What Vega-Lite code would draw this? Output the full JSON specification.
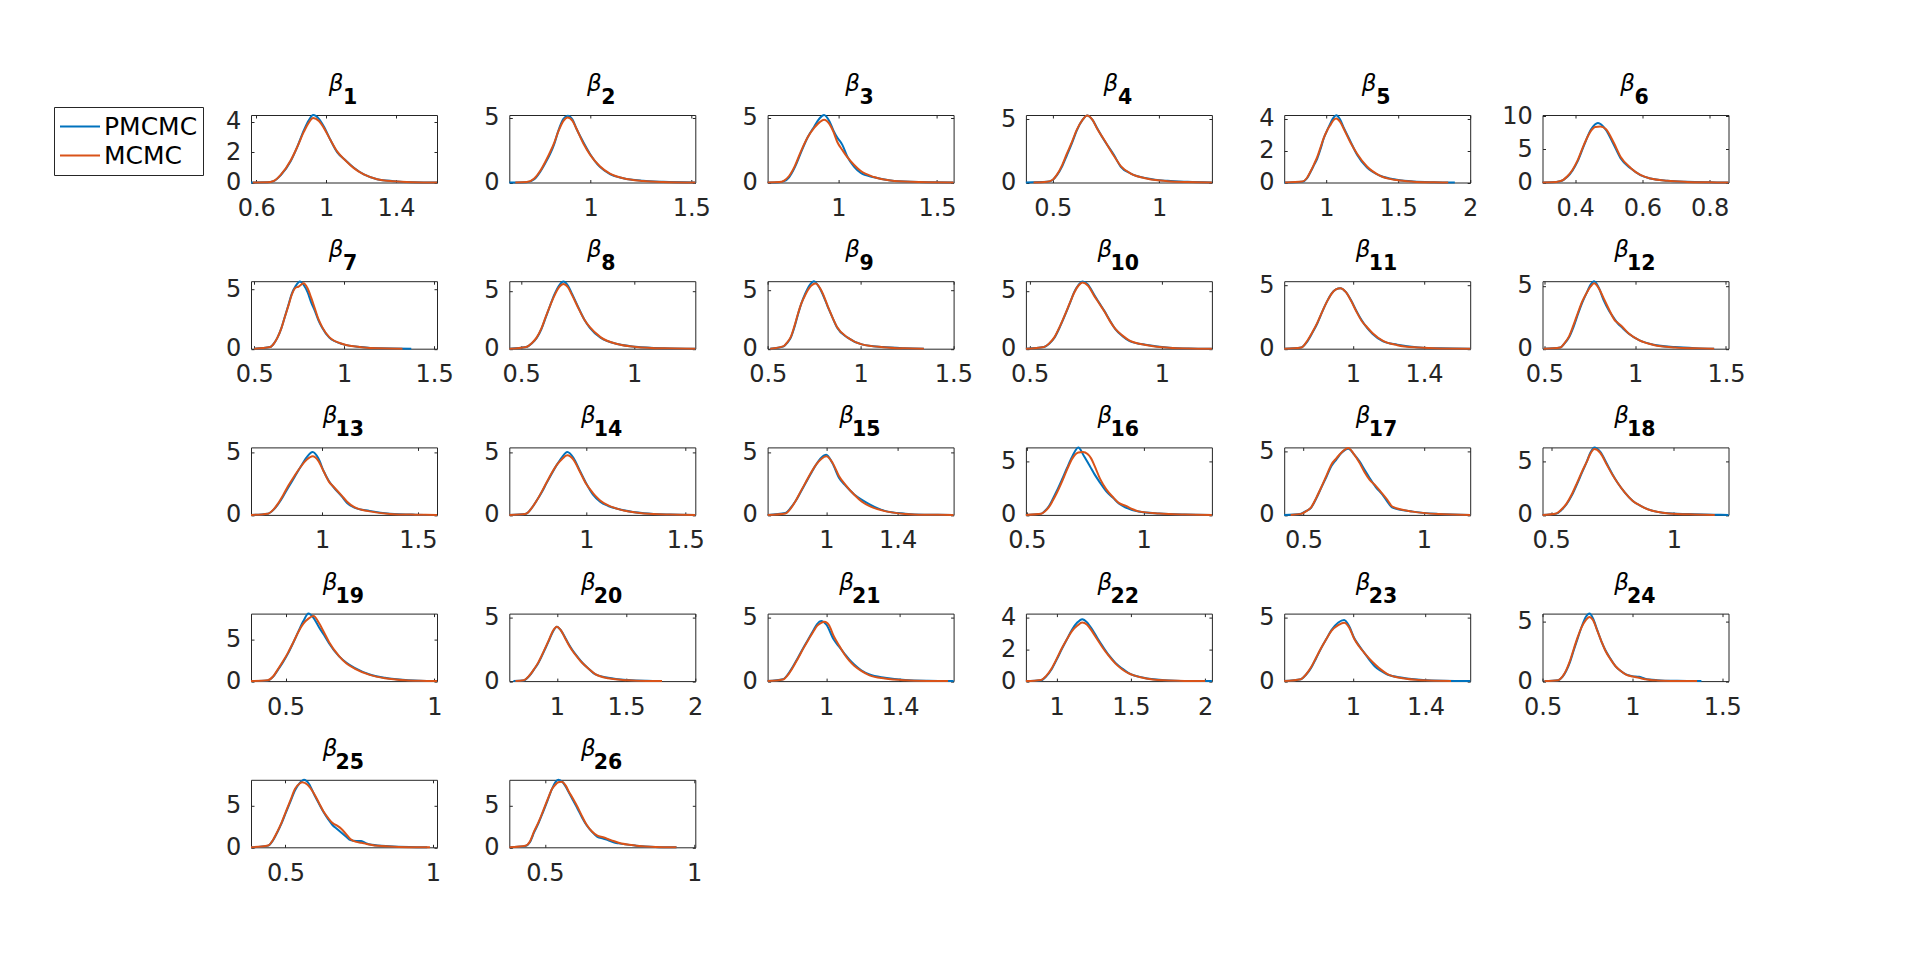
{
"$schema":"https://vega.github.io/schema/vega-lite/v6.json",
"background":"white",
"padding":{"left":53,"top":71,"right":20,"bottom":20},
"bounds":"flush",
"columns":6,
"spacing":{"row":98.2,"column":72.3},
"config":{
 "font":"DejaVu Sans",
 "numberFormat":"~r",
 "view":{"stroke":"#262626","strokeWidth":1,"fill":"white"},
 "line":{"strokeWidth":2,"interpolate":"monotone","clip":true},
 "axis":{"grid":false,"domain":false,"tickSize":-3,"tickColor":"#262626","tickWidth":1,"labelFont":"DejaVu Sans","labelFontSize":24,"labelColor":"#262626","labelFlush":false,"labelOverlap":false},
 "axisX":{"labelPadding":17},
 "axisY":{"labelPadding":13.2},
 "axisBottom":{"titleFont":"DejaVu Sans","titleFontSize":23,"titleFontStyle":"italic","titleFontWeight":"normal","titleColor":"black","titleAlign":"center","titleBaseline":"alphabetic","titleY":-92.1,"titleAngle":0},
 "axisTop":{"titleFont":"DejaVu Sans","titleFontSize":20.5,"titleFontWeight":"bold","titleColor":"black","titleAlign":"left","titleBaseline":"alphabetic","titleY":-11.6,"titleAngle":0}
},
"data":{"values":[
{"p":1,"m":"PMCMC","x":0.57,"y":0},{"p":1,"m":"PMCMC","x":0.663,"y":0.01},{"p":1,"m":"PMCMC","x":0.7,"y":0.09},{"p":1,"m":"PMCMC","x":0.74,"y":0.48},{"p":1,"m":"PMCMC","x":0.797,"y":1.4},{"p":1,"m":"PMCMC","x":0.835,"y":2.35},{"p":1,"m":"PMCMC","x":0.873,"y":3.45},{"p":1,"m":"PMCMC","x":0.901,"y":4.1},{"p":1,"m":"PMCMC","x":0.926,"y":4.45},{"p":1,"m":"PMCMC","x":0.959,"y":4.2},{"p":1,"m":"PMCMC","x":0.987,"y":3.7},{"p":1,"m":"PMCMC","x":1.025,"y":2.8},{"p":1,"m":"PMCMC","x":1.063,"y":2.0},{"p":1,"m":"PMCMC","x":1.111,"y":1.47},{"p":1,"m":"PMCMC","x":1.159,"y":0.97},{"p":1,"m":"PMCMC","x":1.216,"y":0.53},{"p":1,"m":"PMCMC","x":1.292,"y":0.22},{"p":1,"m":"PMCMC","x":1.387,"y":0.09},{"p":1,"m":"PMCMC","x":1.5,"y":0.02},{"p":1,"m":"PMCMC","x":1.635,"y":0},
{"p":1,"m":"MCMC","x":0.58,"y":0},{"p":1,"m":"MCMC","x":0.663,"y":0.01},{"p":1,"m":"MCMC","x":0.7,"y":0.1},{"p":1,"m":"MCMC","x":0.74,"y":0.5},{"p":1,"m":"MCMC","x":0.797,"y":1.45},{"p":1,"m":"MCMC","x":0.835,"y":2.35},{"p":1,"m":"MCMC","x":0.873,"y":3.35},{"p":1,"m":"MCMC","x":0.901,"y":3.95},{"p":1,"m":"MCMC","x":0.926,"y":4.25},{"p":1,"m":"MCMC","x":0.959,"y":4.05},{"p":1,"m":"MCMC","x":0.987,"y":3.6},{"p":1,"m":"MCMC","x":1.025,"y":2.8},{"p":1,"m":"MCMC","x":1.063,"y":2.05},{"p":1,"m":"MCMC","x":1.111,"y":1.45},{"p":1,"m":"MCMC","x":1.159,"y":0.95},{"p":1,"m":"MCMC","x":1.216,"y":0.53},{"p":1,"m":"MCMC","x":1.292,"y":0.22},{"p":1,"m":"MCMC","x":1.387,"y":0.08},{"p":1,"m":"MCMC","x":1.5,"y":0.02},{"p":1,"m":"MCMC","x":1.635,"y":0},
{"p":2,"m":"PMCMC","x":0.596,"y":0},{"p":2,"m":"PMCMC","x":0.683,"y":0.02},{"p":2,"m":"PMCMC","x":0.72,"y":0.25},{"p":2,"m":"PMCMC","x":0.75,"y":0.84},{"p":2,"m":"PMCMC","x":0.775,"y":1.5},{"p":2,"m":"PMCMC","x":0.799,"y":2.2},{"p":2,"m":"PMCMC","x":0.82,"y":3.0},{"p":2,"m":"PMCMC","x":0.84,"y":4.0},{"p":2,"m":"PMCMC","x":0.865,"y":4.9},{"p":2,"m":"PMCMC","x":0.886,"y":5.15},{"p":2,"m":"PMCMC","x":0.91,"y":4.85},{"p":2,"m":"PMCMC","x":0.931,"y":4.1},{"p":2,"m":"PMCMC","x":0.964,"y":3.1},{"p":2,"m":"PMCMC","x":0.997,"y":2.2},{"p":2,"m":"PMCMC","x":1.046,"y":1.2},{"p":2,"m":"PMCMC","x":1.096,"y":0.65},{"p":2,"m":"PMCMC","x":1.162,"y":0.33},{"p":2,"m":"PMCMC","x":1.26,"y":0.13},{"p":2,"m":"PMCMC","x":1.36,"y":0.05},{"p":2,"m":"PMCMC","x":1.52,"y":0},
{"p":2,"m":"MCMC","x":0.626,"y":0},{"p":2,"m":"MCMC","x":0.683,"y":0.03},{"p":2,"m":"MCMC","x":0.72,"y":0.3},{"p":2,"m":"MCMC","x":0.75,"y":0.9},{"p":2,"m":"MCMC","x":0.775,"y":1.6},{"p":2,"m":"MCMC","x":0.799,"y":2.35},{"p":2,"m":"MCMC","x":0.82,"y":3.1},{"p":2,"m":"MCMC","x":0.84,"y":3.95},{"p":2,"m":"MCMC","x":0.865,"y":4.75},{"p":2,"m":"MCMC","x":0.886,"y":5.0},{"p":2,"m":"MCMC","x":0.91,"y":4.75},{"p":2,"m":"MCMC","x":0.931,"y":4.1},{"p":2,"m":"MCMC","x":0.964,"y":3.0},{"p":2,"m":"MCMC","x":0.997,"y":2.15},{"p":2,"m":"MCMC","x":1.046,"y":1.25},{"p":2,"m":"MCMC","x":1.096,"y":0.68},{"p":2,"m":"MCMC","x":1.162,"y":0.33},{"p":2,"m":"MCMC","x":1.26,"y":0.12},{"p":2,"m":"MCMC","x":1.36,"y":0.04},{"p":2,"m":"MCMC","x":1.52,"y":0},
{"p":3,"m":"PMCMC","x":0.641,"y":0},{"p":3,"m":"PMCMC","x":0.7,"y":0.02},{"p":3,"m":"PMCMC","x":0.725,"y":0.1},{"p":3,"m":"PMCMC","x":0.75,"y":0.4},{"p":3,"m":"PMCMC","x":0.78,"y":1.2},{"p":3,"m":"PMCMC","x":0.81,"y":2.3},{"p":3,"m":"PMCMC","x":0.845,"y":3.5},{"p":3,"m":"PMCMC","x":0.877,"y":4.3},{"p":3,"m":"PMCMC","x":0.905,"y":4.95},{"p":3,"m":"PMCMC","x":0.927,"y":5.2},{"p":3,"m":"PMCMC","x":0.955,"y":4.7},{"p":3,"m":"PMCMC","x":0.975,"y":4.0},{"p":3,"m":"PMCMC","x":0.995,"y":3.45},{"p":3,"m":"PMCMC","x":1.02,"y":2.9},{"p":3,"m":"PMCMC","x":1.045,"y":2.0},{"p":3,"m":"PMCMC","x":1.08,"y":1.2},{"p":3,"m":"PMCMC","x":1.112,"y":0.75},{"p":3,"m":"PMCMC","x":1.18,"y":0.4},{"p":3,"m":"PMCMC","x":1.264,"y":0.15},{"p":3,"m":"PMCMC","x":1.365,"y":0.05},{"p":3,"m":"PMCMC","x":1.584,"y":0},
{"p":3,"m":"MCMC","x":0.641,"y":0},{"p":3,"m":"MCMC","x":0.7,"y":0.03},{"p":3,"m":"MCMC","x":0.725,"y":0.15},{"p":3,"m":"MCMC","x":0.75,"y":0.5},{"p":3,"m":"MCMC","x":0.78,"y":1.3},{"p":3,"m":"MCMC","x":0.81,"y":2.4},{"p":3,"m":"MCMC","x":0.845,"y":3.5},{"p":3,"m":"MCMC","x":0.877,"y":4.2},{"p":3,"m":"MCMC","x":0.905,"y":4.65},{"p":3,"m":"MCMC","x":0.927,"y":4.84},{"p":3,"m":"MCMC","x":0.955,"y":4.5},{"p":3,"m":"MCMC","x":0.975,"y":3.9},{"p":3,"m":"MCMC","x":0.995,"y":3.1},{"p":3,"m":"MCMC","x":1.02,"y":2.5},{"p":3,"m":"MCMC","x":1.045,"y":1.95},{"p":3,"m":"MCMC","x":1.08,"y":1.35},{"p":3,"m":"MCMC","x":1.112,"y":0.9},{"p":3,"m":"MCMC","x":1.18,"y":0.42},{"p":3,"m":"MCMC","x":1.264,"y":0.15},{"p":3,"m":"MCMC","x":1.365,"y":0.05},{"p":3,"m":"MCMC","x":1.584,"y":0},
{"p":4,"m":"PMCMC","x":0.374,"y":0},{"p":4,"m":"PMCMC","x":0.473,"y":0.05},{"p":4,"m":"PMCMC","x":0.5,"y":0.2},{"p":4,"m":"PMCMC","x":0.52,"y":0.58},{"p":4,"m":"PMCMC","x":0.545,"y":1.3},{"p":4,"m":"PMCMC","x":0.567,"y":2.17},{"p":4,"m":"PMCMC","x":0.59,"y":3.1},{"p":4,"m":"PMCMC","x":0.614,"y":4.15},{"p":4,"m":"PMCMC","x":0.64,"y":4.95},{"p":4,"m":"PMCMC","x":0.662,"y":5.3},{"p":4,"m":"PMCMC","x":0.687,"y":4.95},{"p":4,"m":"PMCMC","x":0.709,"y":4.3},{"p":4,"m":"PMCMC","x":0.741,"y":3.36},{"p":4,"m":"PMCMC","x":0.788,"y":2.17},{"p":4,"m":"PMCMC","x":0.82,"y":1.24},{"p":4,"m":"PMCMC","x":0.867,"y":0.71},{"p":4,"m":"PMCMC","x":0.946,"y":0.32},{"p":4,"m":"PMCMC","x":1.04,"y":0.13},{"p":4,"m":"PMCMC","x":1.135,"y":0.05},{"p":4,"m":"PMCMC","x":1.248,"y":0},
{"p":4,"m":"MCMC","x":0.41,"y":0},{"p":4,"m":"MCMC","x":0.473,"y":0.06},{"p":4,"m":"MCMC","x":0.5,"y":0.22},{"p":4,"m":"MCMC","x":0.52,"y":0.62},{"p":4,"m":"MCMC","x":0.545,"y":1.4},{"p":4,"m":"MCMC","x":0.567,"y":2.3},{"p":4,"m":"MCMC","x":0.59,"y":3.2},{"p":4,"m":"MCMC","x":0.614,"y":4.2},{"p":4,"m":"MCMC","x":0.64,"y":4.95},{"p":4,"m":"MCMC","x":0.662,"y":5.3},{"p":4,"m":"MCMC","x":0.687,"y":4.95},{"p":4,"m":"MCMC","x":0.709,"y":4.25},{"p":4,"m":"MCMC","x":0.741,"y":3.4},{"p":4,"m":"MCMC","x":0.788,"y":2.1},{"p":4,"m":"MCMC","x":0.82,"y":1.3},{"p":4,"m":"MCMC","x":0.867,"y":0.7},{"p":4,"m":"MCMC","x":0.946,"y":0.3},{"p":4,"m":"MCMC","x":1.04,"y":0.1},{"p":4,"m":"MCMC","x":1.135,"y":0.03},{"p":4,"m":"MCMC","x":1.248,"y":0},
{"p":5,"m":"PMCMC","x":0.707,"y":0},{"p":5,"m":"PMCMC","x":0.834,"y":0.05},{"p":5,"m":"PMCMC","x":0.865,"y":0.25},{"p":5,"m":"PMCMC","x":0.891,"y":0.67},{"p":5,"m":"PMCMC","x":0.915,"y":1.1},{"p":5,"m":"PMCMC","x":0.937,"y":1.5},{"p":5,"m":"PMCMC","x":0.96,"y":2.1},{"p":5,"m":"PMCMC","x":0.983,"y":2.78},{"p":5,"m":"PMCMC","x":1.008,"y":3.3},{"p":5,"m":"PMCMC","x":1.03,"y":3.73},{"p":5,"m":"PMCMC","x":1.05,"y":4.05},{"p":5,"m":"PMCMC","x":1.069,"y":4.2},{"p":5,"m":"PMCMC","x":1.095,"y":3.95},{"p":5,"m":"PMCMC","x":1.122,"y":3.41},{"p":5,"m":"PMCMC","x":1.168,"y":2.57},{"p":5,"m":"PMCMC","x":1.214,"y":1.73},{"p":5,"m":"PMCMC","x":1.283,"y":0.93},{"p":5,"m":"PMCMC","x":1.375,"y":0.42},{"p":5,"m":"PMCMC","x":1.49,"y":0.17},{"p":5,"m":"PMCMC","x":1.606,"y":0.06},{"p":5,"m":"PMCMC","x":1.75,"y":0.015},{"p":5,"m":"PMCMC","x":1.894,"y":0},
{"p":5,"m":"MCMC","x":0.712,"y":0},{"p":5,"m":"MCMC","x":0.834,"y":0.06},{"p":5,"m":"MCMC","x":0.865,"y":0.28},{"p":5,"m":"MCMC","x":0.891,"y":0.7},{"p":5,"m":"MCMC","x":0.915,"y":1.15},{"p":5,"m":"MCMC","x":0.937,"y":1.6},{"p":5,"m":"MCMC","x":0.96,"y":2.2},{"p":5,"m":"MCMC","x":0.983,"y":2.8},{"p":5,"m":"MCMC","x":1.008,"y":3.3},{"p":5,"m":"MCMC","x":1.03,"y":3.62},{"p":5,"m":"MCMC","x":1.05,"y":3.9},{"p":5,"m":"MCMC","x":1.069,"y":4.0},{"p":5,"m":"MCMC","x":1.095,"y":3.8},{"p":5,"m":"MCMC","x":1.122,"y":3.35},{"p":5,"m":"MCMC","x":1.168,"y":2.5},{"p":5,"m":"MCMC","x":1.214,"y":1.8},{"p":5,"m":"MCMC","x":1.283,"y":1.0},{"p":5,"m":"MCMC","x":1.375,"y":0.42},{"p":5,"m":"MCMC","x":1.49,"y":0.15},{"p":5,"m":"MCMC","x":1.606,"y":0.05},{"p":5,"m":"MCMC","x":1.75,"y":0.01},{"p":5,"m":"MCMC","x":1.848,"y":0},
{"p":6,"m":"PMCMC","x":0.303,"y":0},{"p":6,"m":"PMCMC","x":0.33,"y":0.02},{"p":6,"m":"PMCMC","x":0.357,"y":0.2},{"p":6,"m":"PMCMC","x":0.377,"y":0.86},{"p":6,"m":"PMCMC","x":0.392,"y":1.8},{"p":6,"m":"PMCMC","x":0.407,"y":3.16},{"p":6,"m":"PMCMC","x":0.427,"y":5.7},{"p":6,"m":"PMCMC","x":0.447,"y":8.0},{"p":6,"m":"PMCMC","x":0.468,"y":9.0},{"p":6,"m":"PMCMC","x":0.491,"y":8.0},{"p":6,"m":"PMCMC","x":0.515,"y":5.7},{"p":6,"m":"PMCMC","x":0.535,"y":3.67},{"p":6,"m":"PMCMC","x":0.565,"y":2.14},{"p":6,"m":"PMCMC","x":0.594,"y":1.12},{"p":6,"m":"PMCMC","x":0.624,"y":0.61},{"p":6,"m":"PMCMC","x":0.674,"y":0.26},{"p":6,"m":"PMCMC","x":0.733,"y":0.1},{"p":6,"m":"PMCMC","x":0.8,"y":0.03},{"p":6,"m":"PMCMC","x":0.856,"y":0},
{"p":6,"m":"MCMC","x":0.303,"y":0},{"p":6,"m":"MCMC","x":0.33,"y":0.02},{"p":6,"m":"MCMC","x":0.357,"y":0.22},{"p":6,"m":"MCMC","x":0.377,"y":0.95},{"p":6,"m":"MCMC","x":0.392,"y":1.9},{"p":6,"m":"MCMC","x":0.407,"y":3.3},{"p":6,"m":"MCMC","x":0.427,"y":5.8},{"p":6,"m":"MCMC","x":0.447,"y":7.8},{"p":6,"m":"MCMC","x":0.46,"y":8.4},{"p":6,"m":"MCMC","x":0.475,"y":8.45},{"p":6,"m":"MCMC","x":0.491,"y":8.1},{"p":6,"m":"MCMC","x":0.515,"y":6.0},{"p":6,"m":"MCMC","x":0.535,"y":3.9},{"p":6,"m":"MCMC","x":0.565,"y":2.2},{"p":6,"m":"MCMC","x":0.594,"y":1.15},{"p":6,"m":"MCMC","x":0.624,"y":0.6},{"p":6,"m":"MCMC","x":0.674,"y":0.25},{"p":6,"m":"MCMC","x":0.733,"y":0.09},{"p":6,"m":"MCMC","x":0.8,"y":0.03},{"p":6,"m":"MCMC","x":0.856,"y":0},
{"p":7,"m":"PMCMC","x":0.5,"y":0},{"p":7,"m":"PMCMC","x":0.589,"y":0.14},{"p":7,"m":"PMCMC","x":0.61,"y":0.45},{"p":7,"m":"PMCMC","x":0.629,"y":0.94},{"p":7,"m":"PMCMC","x":0.65,"y":1.7},{"p":7,"m":"PMCMC","x":0.669,"y":2.64},{"p":7,"m":"PMCMC","x":0.69,"y":3.7},{"p":7,"m":"PMCMC","x":0.708,"y":4.63},{"p":7,"m":"PMCMC","x":0.73,"y":5.3},{"p":7,"m":"PMCMC","x":0.754,"y":5.7},{"p":7,"m":"PMCMC","x":0.775,"y":5.4},{"p":7,"m":"PMCMC","x":0.797,"y":4.77},{"p":7,"m":"PMCMC","x":0.817,"y":3.9},{"p":7,"m":"PMCMC","x":0.837,"y":3.2},{"p":7,"m":"PMCMC","x":0.857,"y":2.4},{"p":7,"m":"PMCMC","x":0.877,"y":1.79},{"p":7,"m":"PMCMC","x":0.917,"y":0.94},{"p":7,"m":"PMCMC","x":0.996,"y":0.37},{"p":7,"m":"PMCMC","x":1.095,"y":0.14},{"p":7,"m":"PMCMC","x":1.194,"y":0.03},{"p":7,"m":"PMCMC","x":1.373,"y":0},
{"p":7,"m":"MCMC","x":0.5,"y":0},{"p":7,"m":"MCMC","x":0.589,"y":0.14},{"p":7,"m":"MCMC","x":0.61,"y":0.45},{"p":7,"m":"MCMC","x":0.629,"y":0.94},{"p":7,"m":"MCMC","x":0.65,"y":1.7},{"p":7,"m":"MCMC","x":0.669,"y":2.64},{"p":7,"m":"MCMC","x":0.69,"y":3.65},{"p":7,"m":"MCMC","x":0.708,"y":4.55},{"p":7,"m":"MCMC","x":0.728,"y":5.15},{"p":7,"m":"MCMC","x":0.745,"y":5.25},{"p":7,"m":"MCMC","x":0.774,"y":5.54},{"p":7,"m":"MCMC","x":0.797,"y":5.1},{"p":7,"m":"MCMC","x":0.817,"y":4.3},{"p":7,"m":"MCMC","x":0.837,"y":3.4},{"p":7,"m":"MCMC","x":0.857,"y":2.5},{"p":7,"m":"MCMC","x":0.877,"y":1.85},{"p":7,"m":"MCMC","x":0.917,"y":0.98},{"p":7,"m":"MCMC","x":0.996,"y":0.38},{"p":7,"m":"MCMC","x":1.095,"y":0.13},{"p":7,"m":"MCMC","x":1.194,"y":0.03},{"p":7,"m":"MCMC","x":1.324,"y":0},
{"p":8,"m":"PMCMC","x":0.448,"y":0},{"p":8,"m":"PMCMC","x":0.523,"y":0.14},{"p":8,"m":"PMCMC","x":0.547,"y":0.45},{"p":8,"m":"PMCMC","x":0.57,"y":0.95},{"p":8,"m":"PMCMC","x":0.59,"y":1.7},{"p":8,"m":"PMCMC","x":0.609,"y":2.69},{"p":8,"m":"PMCMC","x":0.628,"y":3.7},{"p":8,"m":"PMCMC","x":0.648,"y":4.7},{"p":8,"m":"PMCMC","x":0.668,"y":5.45},{"p":8,"m":"PMCMC","x":0.687,"y":5.8},{"p":8,"m":"PMCMC","x":0.707,"y":5.45},{"p":8,"m":"PMCMC","x":0.726,"y":4.7},{"p":8,"m":"PMCMC","x":0.757,"y":3.4},{"p":8,"m":"PMCMC","x":0.78,"y":2.5},{"p":8,"m":"PMCMC","x":0.804,"y":1.8},{"p":8,"m":"PMCMC","x":0.851,"y":0.95},{"p":8,"m":"PMCMC","x":0.93,"y":0.38},{"p":8,"m":"PMCMC","x":1.007,"y":0.17},{"p":8,"m":"PMCMC","x":1.132,"y":0.04},{"p":8,"m":"PMCMC","x":1.27,"y":0},
{"p":8,"m":"MCMC","x":0.448,"y":0},{"p":8,"m":"MCMC","x":0.523,"y":0.15},{"p":8,"m":"MCMC","x":0.547,"y":0.47},{"p":8,"m":"MCMC","x":0.57,"y":1.0},{"p":8,"m":"MCMC","x":0.59,"y":1.75},{"p":8,"m":"MCMC","x":0.609,"y":2.75},{"p":8,"m":"MCMC","x":0.628,"y":3.7},{"p":8,"m":"MCMC","x":0.648,"y":4.6},{"p":8,"m":"MCMC","x":0.668,"y":5.3},{"p":8,"m":"MCMC","x":0.687,"y":5.58},{"p":8,"m":"MCMC","x":0.707,"y":5.3},{"p":8,"m":"MCMC","x":0.726,"y":4.6},{"p":8,"m":"MCMC","x":0.757,"y":3.35},{"p":8,"m":"MCMC","x":0.78,"y":2.5},{"p":8,"m":"MCMC","x":0.804,"y":1.85},{"p":8,"m":"MCMC","x":0.851,"y":1.0},{"p":8,"m":"MCMC","x":0.93,"y":0.38},{"p":8,"m":"MCMC","x":1.007,"y":0.15},{"p":8,"m":"MCMC","x":1.132,"y":0.03},{"p":8,"m":"MCMC","x":1.27,"y":0},
{"p":9,"m":"PMCMC","x":0.513,"y":0},{"p":9,"m":"PMCMC","x":0.586,"y":0.2},{"p":9,"m":"PMCMC","x":0.605,"y":0.5},{"p":9,"m":"PMCMC","x":0.624,"y":0.94},{"p":9,"m":"PMCMC","x":0.643,"y":1.8},{"p":9,"m":"PMCMC","x":0.663,"y":2.94},{"p":9,"m":"PMCMC","x":0.682,"y":3.9},{"p":9,"m":"PMCMC","x":0.701,"y":4.66},{"p":9,"m":"PMCMC","x":0.725,"y":5.4},{"p":9,"m":"PMCMC","x":0.749,"y":5.75},{"p":9,"m":"PMCMC","x":0.768,"y":5.45},{"p":9,"m":"PMCMC","x":0.787,"y":4.94},{"p":9,"m":"PMCMC","x":0.825,"y":3.5},{"p":9,"m":"PMCMC","x":0.85,"y":2.6},{"p":9,"m":"PMCMC","x":0.873,"y":1.8},{"p":9,"m":"PMCMC","x":0.93,"y":0.94},{"p":9,"m":"PMCMC","x":1.007,"y":0.37},{"p":9,"m":"PMCMC","x":1.121,"y":0.14},{"p":9,"m":"PMCMC","x":1.236,"y":0.04},{"p":9,"m":"PMCMC","x":1.341,"y":0},
{"p":9,"m":"MCMC","x":0.513,"y":0},{"p":9,"m":"MCMC","x":0.586,"y":0.22},{"p":9,"m":"MCMC","x":0.605,"y":0.55},{"p":9,"m":"MCMC","x":0.624,"y":1.0},{"p":9,"m":"MCMC","x":0.643,"y":1.9},{"p":9,"m":"MCMC","x":0.663,"y":3.0},{"p":9,"m":"MCMC","x":0.682,"y":3.9},{"p":9,"m":"MCMC","x":0.701,"y":4.55},{"p":9,"m":"MCMC","x":0.725,"y":5.2},{"p":9,"m":"MCMC","x":0.758,"y":5.55},{"p":9,"m":"MCMC","x":0.787,"y":5.0},{"p":9,"m":"MCMC","x":0.825,"y":3.55},{"p":9,"m":"MCMC","x":0.85,"y":2.6},{"p":9,"m":"MCMC","x":0.873,"y":1.85},{"p":9,"m":"MCMC","x":0.93,"y":0.95},{"p":9,"m":"MCMC","x":1.007,"y":0.37},{"p":9,"m":"MCMC","x":1.121,"y":0.13},{"p":9,"m":"MCMC","x":1.236,"y":0.03},{"p":9,"m":"MCMC","x":1.341,"y":0},
{"p":10,"m":"PMCMC","x":0.486,"y":0},{"p":10,"m":"PMCMC","x":0.554,"y":0.14},{"p":10,"m":"PMCMC","x":0.575,"y":0.45},{"p":10,"m":"PMCMC","x":0.594,"y":0.95},{"p":10,"m":"PMCMC","x":0.615,"y":1.9},{"p":10,"m":"PMCMC","x":0.635,"y":2.95},{"p":10,"m":"PMCMC","x":0.652,"y":3.9},{"p":10,"m":"PMCMC","x":0.668,"y":4.85},{"p":10,"m":"PMCMC","x":0.685,"y":5.5},{"p":10,"m":"PMCMC","x":0.7,"y":5.8},{"p":10,"m":"PMCMC","x":0.72,"y":5.55},{"p":10,"m":"PMCMC","x":0.743,"y":4.7},{"p":10,"m":"PMCMC","x":0.763,"y":3.95},{"p":10,"m":"PMCMC","x":0.783,"y":3.24},{"p":10,"m":"PMCMC","x":0.803,"y":2.45},{"p":10,"m":"PMCMC","x":0.824,"y":1.68},{"p":10,"m":"PMCMC","x":0.85,"y":1.1},{"p":10,"m":"PMCMC","x":0.878,"y":0.66},{"p":10,"m":"PMCMC","x":0.945,"y":0.32},{"p":10,"m":"PMCMC","x":1.027,"y":0.09},{"p":10,"m":"PMCMC","x":1.1,"y":0.02},{"p":10,"m":"PMCMC","x":1.189,"y":0},
{"p":10,"m":"MCMC","x":0.486,"y":0},{"p":10,"m":"MCMC","x":0.554,"y":0.15},{"p":10,"m":"MCMC","x":0.575,"y":0.48},{"p":10,"m":"MCMC","x":0.594,"y":1.0},{"p":10,"m":"MCMC","x":0.615,"y":1.95},{"p":10,"m":"MCMC","x":0.635,"y":3.0},{"p":10,"m":"MCMC","x":0.652,"y":3.95},{"p":10,"m":"MCMC","x":0.668,"y":4.8},{"p":10,"m":"MCMC","x":0.685,"y":5.45},{"p":10,"m":"MCMC","x":0.7,"y":5.7},{"p":10,"m":"MCMC","x":0.72,"y":5.45},{"p":10,"m":"MCMC","x":0.743,"y":4.6},{"p":10,"m":"MCMC","x":0.763,"y":3.9},{"p":10,"m":"MCMC","x":0.783,"y":3.2},{"p":10,"m":"MCMC","x":0.803,"y":2.4},{"p":10,"m":"MCMC","x":0.824,"y":1.7},{"p":10,"m":"MCMC","x":0.85,"y":1.15},{"p":10,"m":"MCMC","x":0.878,"y":0.7},{"p":10,"m":"MCMC","x":0.945,"y":0.3},{"p":10,"m":"MCMC","x":1.027,"y":0.08},{"p":10,"m":"MCMC","x":1.1,"y":0.02},{"p":10,"m":"MCMC","x":1.189,"y":0},
{"p":11,"m":"PMCMC","x":0.614,"y":0},{"p":11,"m":"PMCMC","x":0.71,"y":0.1},{"p":11,"m":"PMCMC","x":0.74,"y":0.5},{"p":11,"m":"PMCMC","x":0.77,"y":1.2},{"p":11,"m":"PMCMC","x":0.8,"y":2.0},{"p":11,"m":"PMCMC","x":0.83,"y":3.0},{"p":11,"m":"PMCMC","x":0.855,"y":3.75},{"p":11,"m":"PMCMC","x":0.88,"y":4.37},{"p":11,"m":"PMCMC","x":0.905,"y":4.7},{"p":11,"m":"PMCMC","x":0.93,"y":4.8},{"p":11,"m":"PMCMC","x":0.96,"y":4.5},{"p":11,"m":"PMCMC","x":0.99,"y":3.84},{"p":11,"m":"PMCMC","x":1.02,"y":3.0},{"p":11,"m":"PMCMC","x":1.05,"y":2.25},{"p":11,"m":"PMCMC","x":1.08,"y":1.65},{"p":11,"m":"PMCMC","x":1.11,"y":1.19},{"p":11,"m":"PMCMC","x":1.17,"y":0.58},{"p":11,"m":"PMCMC","x":1.25,"y":0.32},{"p":11,"m":"PMCMC","x":1.37,"y":0.1},{"p":11,"m":"PMCMC","x":1.49,"y":0.03},{"p":11,"m":"PMCMC","x":1.66,"y":0},
{"p":11,"m":"MCMC","x":0.614,"y":0},{"p":11,"m":"MCMC","x":0.71,"y":0.1},{"p":11,"m":"MCMC","x":0.74,"y":0.55},{"p":11,"m":"MCMC","x":0.77,"y":1.25},{"p":11,"m":"MCMC","x":0.8,"y":2.05},{"p":11,"m":"MCMC","x":0.83,"y":3.0},{"p":11,"m":"MCMC","x":0.855,"y":3.75},{"p":11,"m":"MCMC","x":0.88,"y":4.35},{"p":11,"m":"MCMC","x":0.905,"y":4.7},{"p":11,"m":"MCMC","x":0.93,"y":4.8},{"p":11,"m":"MCMC","x":0.96,"y":4.5},{"p":11,"m":"MCMC","x":0.99,"y":3.8},{"p":11,"m":"MCMC","x":1.02,"y":2.95},{"p":11,"m":"MCMC","x":1.05,"y":2.2},{"p":11,"m":"MCMC","x":1.08,"y":1.7},{"p":11,"m":"MCMC","x":1.11,"y":1.25},{"p":11,"m":"MCMC","x":1.17,"y":0.62},{"p":11,"m":"MCMC","x":1.25,"y":0.28},{"p":11,"m":"MCMC","x":1.37,"y":0.09},{"p":11,"m":"MCMC","x":1.49,"y":0.02},{"p":11,"m":"MCMC","x":1.66,"y":0},
{"p":12,"m":"PMCMC","x":0.496,"y":0},{"p":12,"m":"PMCMC","x":0.588,"y":0.1},{"p":12,"m":"PMCMC","x":0.61,"y":0.4},{"p":12,"m":"PMCMC","x":0.637,"y":0.93},{"p":12,"m":"PMCMC","x":0.66,"y":1.7},{"p":12,"m":"PMCMC","x":0.686,"y":2.78},{"p":12,"m":"PMCMC","x":0.71,"y":3.7},{"p":12,"m":"PMCMC","x":0.735,"y":4.5},{"p":12,"m":"PMCMC","x":0.755,"y":5.1},{"p":12,"m":"PMCMC","x":0.774,"y":5.37},{"p":12,"m":"PMCMC","x":0.8,"y":4.85},{"p":12,"m":"PMCMC","x":0.827,"y":3.84},{"p":12,"m":"PMCMC","x":0.857,"y":3.0},{"p":12,"m":"PMCMC","x":0.886,"y":2.38},{"p":12,"m":"PMCMC","x":0.905,"y":2.0},{"p":12,"m":"PMCMC","x":0.925,"y":1.72},{"p":12,"m":"PMCMC","x":0.965,"y":1.19},{"p":12,"m":"PMCMC","x":1.024,"y":0.66},{"p":12,"m":"PMCMC","x":1.102,"y":0.32},{"p":12,"m":"PMCMC","x":1.22,"y":0.13},{"p":12,"m":"PMCMC","x":1.33,"y":0.04},{"p":12,"m":"PMCMC","x":1.435,"y":0},
{"p":12,"m":"MCMC","x":0.496,"y":0},{"p":12,"m":"MCMC","x":0.588,"y":0.1},{"p":12,"m":"MCMC","x":0.61,"y":0.42},{"p":12,"m":"MCMC","x":0.637,"y":1.0},{"p":12,"m":"MCMC","x":0.66,"y":1.85},{"p":12,"m":"MCMC","x":0.686,"y":2.9},{"p":12,"m":"MCMC","x":0.71,"y":3.8},{"p":12,"m":"MCMC","x":0.735,"y":4.5},{"p":12,"m":"MCMC","x":0.755,"y":4.95},{"p":12,"m":"MCMC","x":0.774,"y":5.2},{"p":12,"m":"MCMC","x":0.8,"y":4.8},{"p":12,"m":"MCMC","x":0.827,"y":4.0},{"p":12,"m":"MCMC","x":0.857,"y":3.1},{"p":12,"m":"MCMC","x":0.886,"y":2.3},{"p":12,"m":"MCMC","x":0.905,"y":2.05},{"p":12,"m":"MCMC","x":0.925,"y":1.8},{"p":12,"m":"MCMC","x":0.965,"y":1.2},{"p":12,"m":"MCMC","x":1.024,"y":0.66},{"p":12,"m":"MCMC","x":1.102,"y":0.3},{"p":12,"m":"MCMC","x":1.22,"y":0.1},{"p":12,"m":"MCMC","x":1.33,"y":0.03},{"p":12,"m":"MCMC","x":1.435,"y":0},
{"p":13,"m":"PMCMC","x":0.628,"y":0},{"p":13,"m":"PMCMC","x":0.716,"y":0.1},{"p":13,"m":"PMCMC","x":0.745,"y":0.4},{"p":13,"m":"PMCMC","x":0.769,"y":0.84},{"p":13,"m":"PMCMC","x":0.795,"y":1.45},{"p":13,"m":"PMCMC","x":0.822,"y":2.16},{"p":13,"m":"PMCMC","x":0.855,"y":3.0},{"p":13,"m":"PMCMC","x":0.889,"y":3.87},{"p":13,"m":"PMCMC","x":0.92,"y":4.6},{"p":13,"m":"PMCMC","x":0.95,"y":5.0},{"p":13,"m":"PMCMC","x":0.98,"y":4.5},{"p":13,"m":"PMCMC","x":1.008,"y":3.47},{"p":13,"m":"PMCMC","x":1.035,"y":2.7},{"p":13,"m":"PMCMC","x":1.062,"y":2.16},{"p":13,"m":"PMCMC","x":1.101,"y":1.5},{"p":13,"m":"PMCMC","x":1.13,"y":0.95},{"p":13,"m":"PMCMC","x":1.168,"y":0.58},{"p":13,"m":"PMCMC","x":1.248,"y":0.32},{"p":13,"m":"PMCMC","x":1.354,"y":0.1},{"p":13,"m":"PMCMC","x":1.487,"y":0.02},{"p":13,"m":"PMCMC","x":1.6,"y":0},
{"p":13,"m":"MCMC","x":0.628,"y":0},{"p":13,"m":"MCMC","x":0.716,"y":0.1},{"p":13,"m":"MCMC","x":0.745,"y":0.42},{"p":13,"m":"MCMC","x":0.769,"y":0.9},{"p":13,"m":"MCMC","x":0.795,"y":1.55},{"p":13,"m":"MCMC","x":0.822,"y":2.3},{"p":13,"m":"MCMC","x":0.855,"y":3.1},{"p":13,"m":"MCMC","x":0.889,"y":3.85},{"p":13,"m":"MCMC","x":0.92,"y":4.4},{"p":13,"m":"MCMC","x":0.95,"y":4.66},{"p":13,"m":"MCMC","x":0.98,"y":4.3},{"p":13,"m":"MCMC","x":1.008,"y":3.45},{"p":13,"m":"MCMC","x":1.035,"y":2.65},{"p":13,"m":"MCMC","x":1.062,"y":2.2},{"p":13,"m":"MCMC","x":1.101,"y":1.55},{"p":13,"m":"MCMC","x":1.13,"y":1.05},{"p":13,"m":"MCMC","x":1.168,"y":0.62},{"p":13,"m":"MCMC","x":1.248,"y":0.28},{"p":13,"m":"MCMC","x":1.354,"y":0.08},{"p":13,"m":"MCMC","x":1.487,"y":0.02},{"p":13,"m":"MCMC","x":1.6,"y":0},
{"p":14,"m":"PMCMC","x":0.611,"y":0},{"p":14,"m":"PMCMC","x":0.696,"y":0.1},{"p":14,"m":"PMCMC","x":0.722,"y":0.5},{"p":14,"m":"PMCMC","x":0.748,"y":1.1},{"p":14,"m":"PMCMC","x":0.775,"y":1.8},{"p":14,"m":"PMCMC","x":0.8,"y":2.55},{"p":14,"m":"PMCMC","x":0.826,"y":3.3},{"p":14,"m":"PMCMC","x":0.852,"y":4.0},{"p":14,"m":"PMCMC","x":0.878,"y":4.6},{"p":14,"m":"PMCMC","x":0.904,"y":5.0},{"p":14,"m":"PMCMC","x":0.935,"y":4.55},{"p":14,"m":"PMCMC","x":0.969,"y":3.47},{"p":14,"m":"PMCMC","x":1.0,"y":2.5},{"p":14,"m":"PMCMC","x":1.033,"y":1.63},{"p":14,"m":"PMCMC","x":1.07,"y":1.05},{"p":14,"m":"PMCMC","x":1.111,"y":0.71},{"p":14,"m":"PMCMC","x":1.189,"y":0.37},{"p":14,"m":"PMCMC","x":1.292,"y":0.13},{"p":14,"m":"PMCMC","x":1.422,"y":0.03},{"p":14,"m":"PMCMC","x":1.551,"y":0},
{"p":14,"m":"MCMC","x":0.611,"y":0},{"p":14,"m":"MCMC","x":0.696,"y":0.1},{"p":14,"m":"MCMC","x":0.722,"y":0.5},{"p":14,"m":"MCMC","x":0.748,"y":1.1},{"p":14,"m":"MCMC","x":0.775,"y":1.85},{"p":14,"m":"MCMC","x":0.8,"y":2.6},{"p":14,"m":"MCMC","x":0.826,"y":3.35},{"p":14,"m":"MCMC","x":0.852,"y":4.0},{"p":14,"m":"MCMC","x":0.878,"y":4.45},{"p":14,"m":"MCMC","x":0.904,"y":4.74},{"p":14,"m":"MCMC","x":0.935,"y":4.4},{"p":14,"m":"MCMC","x":0.969,"y":3.4},{"p":14,"m":"MCMC","x":1.0,"y":2.45},{"p":14,"m":"MCMC","x":1.033,"y":1.75},{"p":14,"m":"MCMC","x":1.05,"y":1.45},{"p":14,"m":"MCMC","x":1.07,"y":1.15},{"p":14,"m":"MCMC","x":1.111,"y":0.75},{"p":14,"m":"MCMC","x":1.189,"y":0.35},{"p":14,"m":"MCMC","x":1.292,"y":0.12},{"p":14,"m":"MCMC","x":1.422,"y":0.03},{"p":14,"m":"MCMC","x":1.551,"y":0},
{"p":15,"m":"PMCMC","x":0.671,"y":0},{"p":15,"m":"PMCMC","x":0.771,"y":0.15},{"p":15,"m":"PMCMC","x":0.8,"y":0.55},{"p":15,"m":"PMCMC","x":0.828,"y":1.1},{"p":15,"m":"PMCMC","x":0.856,"y":1.8},{"p":15,"m":"PMCMC","x":0.885,"y":2.55},{"p":15,"m":"PMCMC","x":0.914,"y":3.3},{"p":15,"m":"PMCMC","x":0.943,"y":4.0},{"p":15,"m":"PMCMC","x":0.972,"y":4.55},{"p":15,"m":"PMCMC","x":1.0,"y":4.79},{"p":15,"m":"PMCMC","x":1.035,"y":4.1},{"p":15,"m":"PMCMC","x":1.071,"y":2.95},{"p":15,"m":"PMCMC","x":1.11,"y":2.3},{"p":15,"m":"PMCMC","x":1.157,"y":1.63},{"p":15,"m":"PMCMC","x":1.2,"y":1.2},{"p":15,"m":"PMCMC","x":1.243,"y":0.84},{"p":15,"m":"PMCMC","x":1.328,"y":0.32},{"p":15,"m":"PMCMC","x":1.443,"y":0.1},{"p":15,"m":"PMCMC","x":1.55,"y":0.02},{"p":15,"m":"PMCMC","x":1.714,"y":0},
{"p":15,"m":"MCMC","x":0.671,"y":0},{"p":15,"m":"MCMC","x":0.771,"y":0.12},{"p":15,"m":"MCMC","x":0.8,"y":0.5},{"p":15,"m":"MCMC","x":0.828,"y":1.1},{"p":15,"m":"MCMC","x":0.856,"y":1.85},{"p":15,"m":"MCMC","x":0.885,"y":2.6},{"p":15,"m":"MCMC","x":0.914,"y":3.35},{"p":15,"m":"MCMC","x":0.943,"y":4.0},{"p":15,"m":"MCMC","x":0.972,"y":4.45},{"p":15,"m":"MCMC","x":1.0,"y":4.66},{"p":15,"m":"MCMC","x":1.035,"y":4.15},{"p":15,"m":"MCMC","x":1.071,"y":3.1},{"p":15,"m":"MCMC","x":1.11,"y":2.35},{"p":15,"m":"MCMC","x":1.157,"y":1.6},{"p":15,"m":"MCMC","x":1.2,"y":1.05},{"p":15,"m":"MCMC","x":1.243,"y":0.7},{"p":15,"m":"MCMC","x":1.328,"y":0.3},{"p":15,"m":"MCMC","x":1.443,"y":0.08},{"p":15,"m":"MCMC","x":1.55,"y":0.02},{"p":15,"m":"MCMC","x":1.714,"y":0},
{"p":16,"m":"PMCMC","x":0.496,"y":0},{"p":16,"m":"PMCMC","x":0.562,"y":0.12},{"p":16,"m":"PMCMC","x":0.578,"y":0.4},{"p":16,"m":"PMCMC","x":0.595,"y":0.84},{"p":16,"m":"PMCMC","x":0.61,"y":1.45},{"p":16,"m":"PMCMC","x":0.628,"y":2.24},{"p":16,"m":"PMCMC","x":0.65,"y":3.3},{"p":16,"m":"PMCMC","x":0.672,"y":4.41},{"p":16,"m":"PMCMC","x":0.695,"y":5.5},{"p":16,"m":"PMCMC","x":0.72,"y":6.33},{"p":16,"m":"PMCMC","x":0.745,"y":5.5},{"p":16,"m":"PMCMC","x":0.77,"y":4.57},{"p":16,"m":"PMCMC","x":0.79,"y":3.8},{"p":16,"m":"PMCMC","x":0.814,"y":3.0},{"p":16,"m":"PMCMC","x":0.84,"y":2.2},{"p":16,"m":"PMCMC","x":0.869,"y":1.6},{"p":16,"m":"PMCMC","x":0.895,"y":1.05},{"p":16,"m":"PMCMC","x":0.924,"y":0.68},{"p":16,"m":"PMCMC","x":0.978,"y":0.31},{"p":16,"m":"PMCMC","x":1.066,"y":0.12},{"p":16,"m":"PMCMC","x":1.175,"y":0.03},{"p":16,"m":"PMCMC","x":1.292,"y":0},
{"p":16,"m":"MCMC","x":0.496,"y":0},{"p":16,"m":"MCMC","x":0.562,"y":0.1},{"p":16,"m":"MCMC","x":0.578,"y":0.35},{"p":16,"m":"MCMC","x":0.595,"y":0.75},{"p":16,"m":"MCMC","x":0.61,"y":1.3},{"p":16,"m":"MCMC","x":0.628,"y":2.05},{"p":16,"m":"MCMC","x":0.65,"y":3.1},{"p":16,"m":"MCMC","x":0.672,"y":4.25},{"p":16,"m":"MCMC","x":0.695,"y":5.3},{"p":16,"m":"MCMC","x":0.72,"y":5.85},{"p":16,"m":"MCMC","x":0.74,"y":5.9},{"p":16,"m":"MCMC","x":0.76,"y":5.7},{"p":16,"m":"MCMC","x":0.775,"y":5.3},{"p":16,"m":"MCMC","x":0.79,"y":4.6},{"p":16,"m":"MCMC","x":0.814,"y":3.35},{"p":16,"m":"MCMC","x":0.84,"y":2.4},{"p":16,"m":"MCMC","x":0.869,"y":1.65},{"p":16,"m":"MCMC","x":0.895,"y":1.1},{"p":16,"m":"MCMC","x":0.924,"y":0.84},{"p":16,"m":"MCMC","x":0.95,"y":0.55},{"p":16,"m":"MCMC","x":0.978,"y":0.33},{"p":16,"m":"MCMC","x":1.066,"y":0.12},{"p":16,"m":"MCMC","x":1.175,"y":0.03},{"p":16,"m":"MCMC","x":1.292,"y":0},
{"p":17,"m":"PMCMC","x":0.42,"y":0},{"p":17,"m":"PMCMC","x":0.49,"y":0.1},{"p":17,"m":"PMCMC","x":0.51,"y":0.3},{"p":17,"m":"PMCMC","x":0.532,"y":0.58},{"p":17,"m":"PMCMC","x":0.553,"y":1.3},{"p":17,"m":"PMCMC","x":0.574,"y":2.16},{"p":17,"m":"PMCMC","x":0.595,"y":3.0},{"p":17,"m":"PMCMC","x":0.616,"y":3.87},{"p":17,"m":"PMCMC","x":0.637,"y":4.4},{"p":17,"m":"PMCMC","x":0.658,"y":4.92},{"p":17,"m":"PMCMC","x":0.686,"y":5.25},{"p":17,"m":"PMCMC","x":0.71,"y":4.8},{"p":17,"m":"PMCMC","x":0.732,"y":4.26},{"p":17,"m":"PMCMC","x":0.753,"y":3.6},{"p":17,"m":"PMCMC","x":0.774,"y":2.95},{"p":17,"m":"PMCMC","x":0.8,"y":2.2},{"p":17,"m":"PMCMC","x":0.827,"y":1.63},{"p":17,"m":"PMCMC","x":0.848,"y":1.05},{"p":17,"m":"PMCMC","x":0.869,"y":0.58},{"p":17,"m":"PMCMC","x":0.954,"y":0.26},{"p":17,"m":"PMCMC","x":1.059,"y":0.08},{"p":17,"m":"PMCMC","x":1.192,"y":0},
{"p":17,"m":"MCMC","x":0.447,"y":0},{"p":17,"m":"MCMC","x":0.49,"y":0.08},{"p":17,"m":"MCMC","x":0.51,"y":0.28},{"p":17,"m":"MCMC","x":0.532,"y":0.6},{"p":17,"m":"MCMC","x":0.553,"y":1.35},{"p":17,"m":"MCMC","x":0.574,"y":2.2},{"p":17,"m":"MCMC","x":0.595,"y":3.1},{"p":17,"m":"MCMC","x":0.616,"y":4.0},{"p":17,"m":"MCMC","x":0.637,"y":4.5},{"p":17,"m":"MCMC","x":0.658,"y":4.95},{"p":17,"m":"MCMC","x":0.686,"y":5.3},{"p":17,"m":"MCMC","x":0.71,"y":4.8},{"p":17,"m":"MCMC","x":0.732,"y":4.15},{"p":17,"m":"MCMC","x":0.753,"y":3.4},{"p":17,"m":"MCMC","x":0.774,"y":2.8},{"p":17,"m":"MCMC","x":0.8,"y":2.3},{"p":17,"m":"MCMC","x":0.82,"y":1.85},{"p":17,"m":"MCMC","x":0.848,"y":1.2},{"p":17,"m":"MCMC","x":0.869,"y":0.65},{"p":17,"m":"MCMC","x":0.954,"y":0.26},{"p":17,"m":"MCMC","x":1.059,"y":0.07},{"p":17,"m":"MCMC","x":1.192,"y":0},
{"p":18,"m":"PMCMC","x":0.465,"y":0},{"p":18,"m":"PMCMC","x":0.521,"y":0.12},{"p":18,"m":"PMCMC","x":0.542,"y":0.45},{"p":18,"m":"PMCMC","x":0.563,"y":0.99},{"p":18,"m":"PMCMC","x":0.584,"y":1.8},{"p":18,"m":"PMCMC","x":0.605,"y":2.84},{"p":18,"m":"PMCMC","x":0.625,"y":3.9},{"p":18,"m":"PMCMC","x":0.646,"y":5.0},{"p":18,"m":"PMCMC","x":0.66,"y":5.8},{"p":18,"m":"PMCMC","x":0.677,"y":6.3},{"p":18,"m":"PMCMC","x":0.7,"y":5.9},{"p":18,"m":"PMCMC","x":0.729,"y":4.7},{"p":18,"m":"PMCMC","x":0.75,"y":3.8},{"p":18,"m":"PMCMC","x":0.771,"y":3.0},{"p":18,"m":"PMCMC","x":0.8,"y":2.1},{"p":18,"m":"PMCMC","x":0.833,"y":1.3},{"p":18,"m":"PMCMC","x":0.865,"y":0.85},{"p":18,"m":"PMCMC","x":0.896,"y":0.52},{"p":18,"m":"PMCMC","x":0.98,"y":0.15},{"p":18,"m":"PMCMC","x":1.084,"y":0.06},{"p":18,"m":"PMCMC","x":1.167,"y":0.02},{"p":18,"m":"PMCMC","x":1.223,"y":0},
{"p":18,"m":"MCMC","x":0.465,"y":0},{"p":18,"m":"MCMC","x":0.521,"y":0.14},{"p":18,"m":"MCMC","x":0.542,"y":0.5},{"p":18,"m":"MCMC","x":0.563,"y":1.05},{"p":18,"m":"MCMC","x":0.584,"y":1.9},{"p":18,"m":"MCMC","x":0.605,"y":2.95},{"p":18,"m":"MCMC","x":0.625,"y":4.0},{"p":18,"m":"MCMC","x":0.646,"y":5.0},{"p":18,"m":"MCMC","x":0.66,"y":5.7},{"p":18,"m":"MCMC","x":0.677,"y":6.14},{"p":18,"m":"MCMC","x":0.7,"y":5.8},{"p":18,"m":"MCMC","x":0.729,"y":4.6},{"p":18,"m":"MCMC","x":0.75,"y":3.75},{"p":18,"m":"MCMC","x":0.771,"y":3.0},{"p":18,"m":"MCMC","x":0.8,"y":2.1},{"p":18,"m":"MCMC","x":0.833,"y":1.3},{"p":18,"m":"MCMC","x":0.865,"y":0.85},{"p":18,"m":"MCMC","x":0.896,"y":0.5},{"p":18,"m":"MCMC","x":0.98,"y":0.14},{"p":18,"m":"MCMC","x":1.084,"y":0.04},{"p":18,"m":"MCMC","x":1.167,"y":0},
{"p":19,"m":"PMCMC","x":0.384,"y":0},{"p":19,"m":"PMCMC","x":0.44,"y":0.08},{"p":19,"m":"PMCMC","x":0.458,"y":0.5},{"p":19,"m":"PMCMC","x":0.475,"y":1.38},{"p":19,"m":"PMCMC","x":0.492,"y":2.3},{"p":19,"m":"PMCMC","x":0.509,"y":3.36},{"p":19,"m":"PMCMC","x":0.526,"y":4.6},{"p":19,"m":"PMCMC","x":0.543,"y":5.93},{"p":19,"m":"PMCMC","x":0.56,"y":7.2},{"p":19,"m":"PMCMC","x":0.577,"y":8.1},{"p":19,"m":"PMCMC","x":0.594,"y":7.6},{"p":19,"m":"PMCMC","x":0.612,"y":6.5},{"p":19,"m":"PMCMC","x":0.63,"y":5.5},{"p":19,"m":"PMCMC","x":0.646,"y":4.55},{"p":19,"m":"PMCMC","x":0.68,"y":2.96},{"p":19,"m":"PMCMC","x":0.705,"y":2.2},{"p":19,"m":"PMCMC","x":0.732,"y":1.58},{"p":19,"m":"PMCMC","x":0.783,"y":0.79},{"p":19,"m":"PMCMC","x":0.834,"y":0.4},{"p":19,"m":"PMCMC","x":0.903,"y":0.12},{"p":19,"m":"PMCMC","x":0.95,"y":0.04},{"p":19,"m":"PMCMC","x":1.009,"y":0},
{"p":19,"m":"MCMC","x":0.384,"y":0},{"p":19,"m":"MCMC","x":0.44,"y":0.1},{"p":19,"m":"MCMC","x":0.458,"y":0.55},{"p":19,"m":"MCMC","x":0.475,"y":1.45},{"p":19,"m":"MCMC","x":0.492,"y":2.4},{"p":19,"m":"MCMC","x":0.509,"y":3.45},{"p":19,"m":"MCMC","x":0.526,"y":4.65},{"p":19,"m":"MCMC","x":0.543,"y":5.9},{"p":19,"m":"MCMC","x":0.56,"y":6.9},{"p":19,"m":"MCMC","x":0.577,"y":7.5},{"p":19,"m":"MCMC","x":0.594,"y":7.8},{"p":19,"m":"MCMC","x":0.612,"y":7.0},{"p":19,"m":"MCMC","x":0.63,"y":5.8},{"p":19,"m":"MCMC","x":0.646,"y":4.7},{"p":19,"m":"MCMC","x":0.68,"y":3.0},{"p":19,"m":"MCMC","x":0.705,"y":2.1},{"p":19,"m":"MCMC","x":0.732,"y":1.5},{"p":19,"m":"MCMC","x":0.783,"y":0.75},{"p":19,"m":"MCMC","x":0.834,"y":0.35},{"p":19,"m":"MCMC","x":0.903,"y":0.1},{"p":19,"m":"MCMC","x":0.95,"y":0.03},{"p":19,"m":"MCMC","x":1.009,"y":0},
{"p":20,"m":"PMCMC","x":0.686,"y":0},{"p":20,"m":"PMCMC","x":0.76,"y":0.05},{"p":20,"m":"PMCMC","x":0.8,"y":0.4},{"p":20,"m":"PMCMC","x":0.834,"y":0.9},{"p":20,"m":"PMCMC","x":0.865,"y":1.4},{"p":20,"m":"PMCMC","x":0.89,"y":1.94},{"p":20,"m":"PMCMC","x":0.918,"y":2.6},{"p":20,"m":"PMCMC","x":0.945,"y":3.24},{"p":20,"m":"PMCMC","x":0.972,"y":3.9},{"p":20,"m":"PMCMC","x":1.0,"y":4.27},{"p":20,"m":"PMCMC","x":1.028,"y":4.0},{"p":20,"m":"PMCMC","x":1.056,"y":3.5},{"p":20,"m":"PMCMC","x":1.083,"y":2.95},{"p":20,"m":"PMCMC","x":1.111,"y":2.46},{"p":20,"m":"PMCMC","x":1.15,"y":1.9},{"p":20,"m":"PMCMC","x":1.186,"y":1.42},{"p":20,"m":"PMCMC","x":1.232,"y":0.95},{"p":20,"m":"PMCMC","x":1.278,"y":0.52},{"p":20,"m":"PMCMC","x":1.371,"y":0.26},{"p":20,"m":"PMCMC","x":1.519,"y":0.08},{"p":20,"m":"PMCMC","x":1.65,"y":0.02},{"p":20,"m":"PMCMC","x":1.76,"y":0},
{"p":20,"m":"MCMC","x":0.7,"y":0},{"p":20,"m":"MCMC","x":0.76,"y":0.06},{"p":20,"m":"MCMC","x":0.8,"y":0.42},{"p":20,"m":"MCMC","x":0.834,"y":0.92},{"p":20,"m":"MCMC","x":0.865,"y":1.45},{"p":20,"m":"MCMC","x":0.89,"y":2.0},{"p":20,"m":"MCMC","x":0.918,"y":2.65},{"p":20,"m":"MCMC","x":0.945,"y":3.3},{"p":20,"m":"MCMC","x":0.972,"y":3.95},{"p":20,"m":"MCMC","x":1.0,"y":4.27},{"p":20,"m":"MCMC","x":1.028,"y":4.0},{"p":20,"m":"MCMC","x":1.056,"y":3.45},{"p":20,"m":"MCMC","x":1.083,"y":2.9},{"p":20,"m":"MCMC","x":1.111,"y":2.4},{"p":20,"m":"MCMC","x":1.15,"y":1.85},{"p":20,"m":"MCMC","x":1.186,"y":1.4},{"p":20,"m":"MCMC","x":1.232,"y":0.95},{"p":20,"m":"MCMC","x":1.278,"y":0.55},{"p":20,"m":"MCMC","x":1.371,"y":0.22},{"p":20,"m":"MCMC","x":1.519,"y":0.06},{"p":20,"m":"MCMC","x":1.65,"y":0.01},{"p":20,"m":"MCMC","x":1.76,"y":0},
{"p":21,"m":"PMCMC","x":0.683,"y":0},{"p":21,"m":"PMCMC","x":0.766,"y":0.15},{"p":21,"m":"PMCMC","x":0.794,"y":0.55},{"p":21,"m":"PMCMC","x":0.821,"y":1.17},{"p":21,"m":"PMCMC","x":0.848,"y":1.85},{"p":21,"m":"PMCMC","x":0.876,"y":2.6},{"p":21,"m":"PMCMC","x":0.904,"y":3.3},{"p":21,"m":"PMCMC","x":0.931,"y":4.0},{"p":21,"m":"PMCMC","x":0.952,"y":4.5},{"p":21,"m":"PMCMC","x":0.973,"y":4.71},{"p":21,"m":"PMCMC","x":1.0,"y":4.45},{"p":21,"m":"PMCMC","x":1.042,"y":3.24},{"p":21,"m":"PMCMC","x":1.07,"y":2.7},{"p":21,"m":"PMCMC","x":1.097,"y":2.2},{"p":21,"m":"PMCMC","x":1.125,"y":1.7},{"p":21,"m":"PMCMC","x":1.152,"y":1.3},{"p":21,"m":"PMCMC","x":1.19,"y":0.85},{"p":21,"m":"PMCMC","x":1.235,"y":0.52},{"p":21,"m":"PMCMC","x":1.318,"y":0.26},{"p":21,"m":"PMCMC","x":1.428,"y":0.08},{"p":21,"m":"PMCMC","x":1.55,"y":0.02},{"p":21,"m":"PMCMC","x":1.69,"y":0},
{"p":21,"m":"MCMC","x":0.683,"y":0},{"p":21,"m":"MCMC","x":0.766,"y":0.12},{"p":21,"m":"MCMC","x":0.794,"y":0.5},{"p":21,"m":"MCMC","x":0.821,"y":1.1},{"p":21,"m":"MCMC","x":0.848,"y":1.8},{"p":21,"m":"MCMC","x":0.876,"y":2.55},{"p":21,"m":"MCMC","x":0.904,"y":3.25},{"p":21,"m":"MCMC","x":0.931,"y":3.9},{"p":21,"m":"MCMC","x":0.952,"y":4.35},{"p":21,"m":"MCMC","x":0.973,"y":4.58},{"p":21,"m":"MCMC","x":0.992,"y":4.66},{"p":21,"m":"MCMC","x":1.015,"y":4.4},{"p":21,"m":"MCMC","x":1.042,"y":3.5},{"p":21,"m":"MCMC","x":1.07,"y":2.8},{"p":21,"m":"MCMC","x":1.097,"y":2.15},{"p":21,"m":"MCMC","x":1.125,"y":1.6},{"p":21,"m":"MCMC","x":1.152,"y":1.2},{"p":21,"m":"MCMC","x":1.19,"y":0.8},{"p":21,"m":"MCMC","x":1.235,"y":0.45},{"p":21,"m":"MCMC","x":1.318,"y":0.2},{"p":21,"m":"MCMC","x":1.428,"y":0.06},{"p":21,"m":"MCMC","x":1.55,"y":0.01},{"p":21,"m":"MCMC","x":1.66,"y":0},
{"p":22,"m":"PMCMC","x":0.793,"y":0},{"p":22,"m":"PMCMC","x":0.896,"y":0.06},{"p":22,"m":"PMCMC","x":0.93,"y":0.3},{"p":22,"m":"PMCMC","x":0.965,"y":0.73},{"p":22,"m":"PMCMC","x":1.0,"y":1.35},{"p":22,"m":"PMCMC","x":1.034,"y":2.0},{"p":22,"m":"PMCMC","x":1.07,"y":2.65},{"p":22,"m":"PMCMC","x":1.103,"y":3.23},{"p":22,"m":"PMCMC","x":1.14,"y":3.7},{"p":22,"m":"PMCMC","x":1.172,"y":3.9},{"p":22,"m":"PMCMC","x":1.205,"y":3.7},{"p":22,"m":"PMCMC","x":1.241,"y":3.23},{"p":22,"m":"PMCMC","x":1.275,"y":2.7},{"p":22,"m":"PMCMC","x":1.31,"y":2.19},{"p":22,"m":"PMCMC","x":1.35,"y":1.65},{"p":22,"m":"PMCMC","x":1.396,"y":1.15},{"p":22,"m":"PMCMC","x":1.44,"y":0.8},{"p":22,"m":"PMCMC","x":1.482,"y":0.52},{"p":22,"m":"PMCMC","x":1.586,"y":0.21},{"p":22,"m":"PMCMC","x":1.724,"y":0.06},{"p":22,"m":"PMCMC","x":1.88,"y":0.01},{"p":22,"m":"PMCMC","x":2.045,"y":0},
{"p":22,"m":"MCMC","x":0.793,"y":0},{"p":22,"m":"MCMC","x":0.896,"y":0.07},{"p":22,"m":"MCMC","x":0.93,"y":0.33},{"p":22,"m":"MCMC","x":0.965,"y":0.78},{"p":22,"m":"MCMC","x":1.0,"y":1.4},{"p":22,"m":"MCMC","x":1.034,"y":2.05},{"p":22,"m":"MCMC","x":1.07,"y":2.65},{"p":22,"m":"MCMC","x":1.103,"y":3.15},{"p":22,"m":"MCMC","x":1.14,"y":3.5},{"p":22,"m":"MCMC","x":1.172,"y":3.69},{"p":22,"m":"MCMC","x":1.205,"y":3.55},{"p":22,"m":"MCMC","x":1.241,"y":3.1},{"p":22,"m":"MCMC","x":1.275,"y":2.6},{"p":22,"m":"MCMC","x":1.31,"y":2.1},{"p":22,"m":"MCMC","x":1.35,"y":1.6},{"p":22,"m":"MCMC","x":1.396,"y":1.1},{"p":22,"m":"MCMC","x":1.44,"y":0.75},{"p":22,"m":"MCMC","x":1.482,"y":0.5},{"p":22,"m":"MCMC","x":1.586,"y":0.2},{"p":22,"m":"MCMC","x":1.724,"y":0.05},{"p":22,"m":"MCMC","x":1.88,"y":0.01},{"p":22,"m":"MCMC","x":2.0,"y":0},
{"p":23,"m":"PMCMC","x":0.622,"y":0},{"p":23,"m":"PMCMC","x":0.714,"y":0.15},{"p":23,"m":"PMCMC","x":0.742,"y":0.5},{"p":23,"m":"PMCMC","x":0.77,"y":1.04},{"p":23,"m":"PMCMC","x":0.798,"y":1.8},{"p":23,"m":"PMCMC","x":0.826,"y":2.59},{"p":23,"m":"PMCMC","x":0.854,"y":3.3},{"p":23,"m":"PMCMC","x":0.882,"y":4.0},{"p":23,"m":"PMCMC","x":0.92,"y":4.6},{"p":23,"m":"PMCMC","x":0.952,"y":4.79},{"p":23,"m":"PMCMC","x":0.98,"y":4.3},{"p":23,"m":"PMCMC","x":1.008,"y":3.37},{"p":23,"m":"PMCMC","x":1.036,"y":2.75},{"p":23,"m":"PMCMC","x":1.064,"y":2.2},{"p":23,"m":"PMCMC","x":1.092,"y":1.65},{"p":23,"m":"PMCMC","x":1.12,"y":1.17},{"p":23,"m":"PMCMC","x":1.155,"y":0.8},{"p":23,"m":"PMCMC","x":1.19,"y":0.52},{"p":23,"m":"PMCMC","x":1.274,"y":0.26},{"p":23,"m":"PMCMC","x":1.386,"y":0.08},{"p":23,"m":"PMCMC","x":1.5,"y":0.02},{"p":23,"m":"PMCMC","x":1.646,"y":0},
{"p":23,"m":"MCMC","x":0.622,"y":0},{"p":23,"m":"MCMC","x":0.714,"y":0.15},{"p":23,"m":"MCMC","x":0.742,"y":0.52},{"p":23,"m":"MCMC","x":0.77,"y":1.08},{"p":23,"m":"MCMC","x":0.798,"y":1.85},{"p":23,"m":"MCMC","x":0.826,"y":2.62},{"p":23,"m":"MCMC","x":0.854,"y":3.3},{"p":23,"m":"MCMC","x":0.882,"y":3.95},{"p":23,"m":"MCMC","x":0.92,"y":4.4},{"p":23,"m":"MCMC","x":0.952,"y":4.59},{"p":23,"m":"MCMC","x":0.98,"y":4.2},{"p":23,"m":"MCMC","x":1.008,"y":3.3},{"p":23,"m":"MCMC","x":1.036,"y":2.7},{"p":23,"m":"MCMC","x":1.064,"y":2.2},{"p":23,"m":"MCMC","x":1.092,"y":1.75},{"p":23,"m":"MCMC","x":1.12,"y":1.35},{"p":23,"m":"MCMC","x":1.155,"y":0.9},{"p":23,"m":"MCMC","x":1.19,"y":0.55},{"p":23,"m":"MCMC","x":1.274,"y":0.22},{"p":23,"m":"MCMC","x":1.386,"y":0.06},{"p":23,"m":"MCMC","x":1.54,"y":0},
{"p":24,"m":"PMCMC","x":0.51,"y":0},{"p":24,"m":"PMCMC","x":0.587,"y":0.08},{"p":24,"m":"PMCMC","x":0.61,"y":0.35},{"p":24,"m":"PMCMC","x":0.63,"y":0.83},{"p":24,"m":"PMCMC","x":0.652,"y":1.6},{"p":24,"m":"PMCMC","x":0.674,"y":2.64},{"p":24,"m":"PMCMC","x":0.695,"y":3.6},{"p":24,"m":"PMCMC","x":0.717,"y":4.58},{"p":24,"m":"PMCMC","x":0.74,"y":5.4},{"p":24,"m":"PMCMC","x":0.761,"y":5.69},{"p":24,"m":"PMCMC","x":0.78,"y":5.3},{"p":24,"m":"PMCMC","x":0.804,"y":4.3},{"p":24,"m":"PMCMC","x":0.826,"y":3.4},{"p":24,"m":"PMCMC","x":0.848,"y":2.64},{"p":24,"m":"PMCMC","x":0.877,"y":1.9},{"p":24,"m":"PMCMC","x":0.906,"y":1.25},{"p":24,"m":"PMCMC","x":0.935,"y":0.85},{"p":24,"m":"PMCMC","x":0.964,"y":0.56},{"p":24,"m":"PMCMC","x":1.0,"y":0.42},{"p":24,"m":"PMCMC","x":1.036,"y":0.36},{"p":24,"m":"PMCMC","x":1.07,"y":0.2},{"p":24,"m":"PMCMC","x":1.138,"y":0.08},{"p":24,"m":"PMCMC","x":1.25,"y":0.02},{"p":24,"m":"PMCMC","x":1.384,"y":0},
{"p":24,"m":"MCMC","x":0.51,"y":0},{"p":24,"m":"MCMC","x":0.587,"y":0.08},{"p":24,"m":"MCMC","x":0.61,"y":0.38},{"p":24,"m":"MCMC","x":0.63,"y":0.88},{"p":24,"m":"MCMC","x":0.652,"y":1.7},{"p":24,"m":"MCMC","x":0.674,"y":2.75},{"p":24,"m":"MCMC","x":0.695,"y":3.7},{"p":24,"m":"MCMC","x":0.717,"y":4.55},{"p":24,"m":"MCMC","x":0.74,"y":5.15},{"p":24,"m":"MCMC","x":0.761,"y":5.4},{"p":24,"m":"MCMC","x":0.78,"y":5.15},{"p":24,"m":"MCMC","x":0.804,"y":4.25},{"p":24,"m":"MCMC","x":0.826,"y":3.4},{"p":24,"m":"MCMC","x":0.848,"y":2.6},{"p":24,"m":"MCMC","x":0.877,"y":1.85},{"p":24,"m":"MCMC","x":0.906,"y":1.25},{"p":24,"m":"MCMC","x":0.935,"y":0.85},{"p":24,"m":"MCMC","x":0.964,"y":0.55},{"p":24,"m":"MCMC","x":1.0,"y":0.38},{"p":24,"m":"MCMC","x":1.036,"y":0.28},{"p":24,"m":"MCMC","x":1.07,"y":0.16},{"p":24,"m":"MCMC","x":1.138,"y":0.06},{"p":24,"m":"MCMC","x":1.25,"y":0.01},{"p":24,"m":"MCMC","x":1.36,"y":0},
{"p":25,"m":"PMCMC","x":0.383,"y":0},{"p":25,"m":"PMCMC","x":0.441,"y":0.2},{"p":25,"m":"PMCMC","x":0.457,"y":0.8},{"p":25,"m":"PMCMC","x":0.472,"y":1.78},{"p":25,"m":"PMCMC","x":0.487,"y":2.9},{"p":25,"m":"PMCMC","x":0.502,"y":4.23},{"p":25,"m":"PMCMC","x":0.517,"y":5.5},{"p":25,"m":"PMCMC","x":0.532,"y":6.8},{"p":25,"m":"PMCMC","x":0.548,"y":7.7},{"p":25,"m":"PMCMC","x":0.563,"y":8.1},{"p":25,"m":"PMCMC","x":0.58,"y":7.6},{"p":25,"m":"PMCMC","x":0.599,"y":6.2},{"p":25,"m":"PMCMC","x":0.614,"y":5.2},{"p":25,"m":"PMCMC","x":0.629,"y":4.23},{"p":25,"m":"PMCMC","x":0.645,"y":3.35},{"p":25,"m":"PMCMC","x":0.66,"y":2.65},{"p":25,"m":"PMCMC","x":0.675,"y":2.2},{"p":25,"m":"PMCMC","x":0.69,"y":1.75},{"p":25,"m":"PMCMC","x":0.705,"y":1.3},{"p":25,"m":"PMCMC","x":0.72,"y":0.87},{"p":25,"m":"PMCMC","x":0.74,"y":0.75},{"p":25,"m":"PMCMC","x":0.757,"y":0.75},{"p":25,"m":"PMCMC","x":0.775,"y":0.45},{"p":25,"m":"PMCMC","x":0.793,"y":0.3},{"p":25,"m":"PMCMC","x":0.854,"y":0.12},{"p":25,"m":"PMCMC","x":0.92,"y":0.03},{"p":25,"m":"PMCMC","x":0.981,"y":0},
{"p":25,"m":"MCMC","x":0.383,"y":0},{"p":25,"m":"MCMC","x":0.441,"y":0.22},{"p":25,"m":"MCMC","x":0.457,"y":0.85},{"p":25,"m":"MCMC","x":0.472,"y":1.85},{"p":25,"m":"MCMC","x":0.487,"y":3.0},{"p":25,"m":"MCMC","x":0.502,"y":4.35},{"p":25,"m":"MCMC","x":0.517,"y":5.65},{"p":25,"m":"MCMC","x":0.532,"y":7.0},{"p":25,"m":"MCMC","x":0.548,"y":7.65},{"p":25,"m":"MCMC","x":0.557,"y":7.8},{"p":25,"m":"MCMC","x":0.575,"y":7.5},{"p":25,"m":"MCMC","x":0.599,"y":6.3},{"p":25,"m":"MCMC","x":0.614,"y":5.3},{"p":25,"m":"MCMC","x":0.629,"y":4.3},{"p":25,"m":"MCMC","x":0.645,"y":3.5},{"p":25,"m":"MCMC","x":0.66,"y":2.9},{"p":25,"m":"MCMC","x":0.675,"y":2.6},{"p":25,"m":"MCMC","x":0.69,"y":2.2},{"p":25,"m":"MCMC","x":0.705,"y":1.6},{"p":25,"m":"MCMC","x":0.72,"y":1.0},{"p":25,"m":"MCMC","x":0.74,"y":0.65},{"p":25,"m":"MCMC","x":0.757,"y":0.55},{"p":25,"m":"MCMC","x":0.775,"y":0.4},{"p":25,"m":"MCMC","x":0.793,"y":0.28},{"p":25,"m":"MCMC","x":0.854,"y":0.1},{"p":25,"m":"MCMC","x":0.92,"y":0.02},{"p":25,"m":"MCMC","x":0.99,"y":0},
{"p":26,"m":"PMCMC","x":0.381,"y":0},{"p":26,"m":"PMCMC","x":0.435,"y":0.15},{"p":26,"m":"PMCMC","x":0.45,"y":0.6},{"p":26,"m":"PMCMC","x":0.464,"y":1.78},{"p":26,"m":"PMCMC","x":0.48,"y":3.0},{"p":26,"m":"PMCMC","x":0.494,"y":4.23},{"p":26,"m":"PMCMC","x":0.51,"y":5.7},{"p":26,"m":"PMCMC","x":0.524,"y":7.0},{"p":26,"m":"PMCMC","x":0.535,"y":7.8},{"p":26,"m":"PMCMC","x":0.545,"y":8.1},{"p":26,"m":"PMCMC","x":0.56,"y":7.8},{"p":26,"m":"PMCMC","x":0.58,"y":6.6},{"p":26,"m":"PMCMC","x":0.595,"y":5.6},{"p":26,"m":"PMCMC","x":0.61,"y":4.6},{"p":26,"m":"PMCMC","x":0.625,"y":3.55},{"p":26,"m":"PMCMC","x":0.64,"y":2.65},{"p":26,"m":"PMCMC","x":0.658,"y":1.85},{"p":26,"m":"PMCMC","x":0.676,"y":1.26},{"p":26,"m":"PMCMC","x":0.695,"y":1.05},{"p":26,"m":"PMCMC","x":0.711,"y":0.87},{"p":26,"m":"PMCMC","x":0.73,"y":0.6},{"p":26,"m":"PMCMC","x":0.747,"y":0.47},{"p":26,"m":"PMCMC","x":0.806,"y":0.2},{"p":26,"m":"PMCMC","x":0.87,"y":0.05},{"p":26,"m":"PMCMC","x":0.941,"y":0},
{"p":26,"m":"MCMC","x":0.381,"y":0},{"p":26,"m":"MCMC","x":0.435,"y":0.18},{"p":26,"m":"MCMC","x":0.45,"y":0.7},{"p":26,"m":"MCMC","x":0.464,"y":1.9},{"p":26,"m":"MCMC","x":0.48,"y":3.1},{"p":26,"m":"MCMC","x":0.494,"y":4.35},{"p":26,"m":"MCMC","x":0.51,"y":5.8},{"p":26,"m":"MCMC","x":0.524,"y":7.0},{"p":26,"m":"MCMC","x":0.535,"y":7.5},{"p":26,"m":"MCMC","x":0.545,"y":7.8},{"p":26,"m":"MCMC","x":0.555,"y":7.86},{"p":26,"m":"MCMC","x":0.57,"y":7.4},{"p":26,"m":"MCMC","x":0.58,"y":6.7},{"p":26,"m":"MCMC","x":0.595,"y":5.8},{"p":26,"m":"MCMC","x":0.61,"y":4.8},{"p":26,"m":"MCMC","x":0.625,"y":3.7},{"p":26,"m":"MCMC","x":0.64,"y":2.7},{"p":26,"m":"MCMC","x":0.658,"y":1.9},{"p":26,"m":"MCMC","x":0.676,"y":1.4},{"p":26,"m":"MCMC","x":0.695,"y":1.2},{"p":26,"m":"MCMC","x":0.711,"y":1.0},{"p":26,"m":"MCMC","x":0.73,"y":0.75},{"p":26,"m":"MCMC","x":0.747,"y":0.55},{"p":26,"m":"MCMC","x":0.806,"y":0.2},{"p":26,"m":"MCMC","x":0.87,"y":0.04},{"p":26,"m":"MCMC","x":0.941,"y":0}
]},
"concat":[
{"width":186,"height":67.5,"transform":[{"filter":"datum.p==1"}],"resolve":{"axis":{"x":"independent","y":"independent"}},"layer":[
{"transform":[{"filter":"datum.m=='PMCMC'"}],"mark":"line","encoding":{"x":{"field":"x","type":"quantitative","scale":{"domain":[0.57,1.635]},"axis":{"values":[0.6,1,1.4],"title":"β","titleX":84.5}},"y":{"field":"y","type":"quantitative","title":null,"scale":{"domain":[0,4.45]},"axis":{"values":[0,2,4]}},"color":{"field":"m","type":"nominal","scale":{"domain":["PMCMC","MCMC"],"range":["#0072BD","#D95319"]},"legend":{"title":null,"orient":"none","legendX":-197,"legendY":-8,"symbolType":"stroke","symbolSize":1600,"symbolStrokeWidth":2,"strokeColor":"#262626","fillColor":"white","padding":5,"labelOffset":3,"clipHeight":29,"rowPadding":0,"labelFont":"DejaVu Sans","labelFontSize":25,"labelColor":"black"}}}},
{"transform":[{"filter":"datum.m=='MCMC'"}],"mark":{"type":"line","color":"#D95319"},"encoding":{"x":{"field":"x","type":"quantitative","scale":{"domain":[0.57,1.635]},"axis":{"orient":"top","labels":false,"values":[0.6,1,1.4],"title":"1","titleX":91.5}},"y":{"field":"y","type":"quantitative","title":null,"scale":{"domain":[0,4.45]},"axis":{"orient":"right","labels":false,"values":[0,2,4]}}}}]},
{"width":186,"height":67.5,"transform":[{"filter":"datum.p==2"}],"resolve":{"axis":{"x":"independent","y":"independent"}},"layer":[
{"transform":[{"filter":"datum.m=='PMCMC'"}],"mark":{"type":"line","color":"#0072BD"},"encoding":{"x":{"field":"x","type":"quantitative","scale":{"domain":[0.596,1.52]},"axis":{"values":[1,1.5],"title":"β","titleX":84.5}},"y":{"field":"y","type":"quantitative","title":null,"scale":{"domain":[0,5.2]},"axis":{"values":[0,5]}}}},
{"transform":[{"filter":"datum.m=='MCMC'"}],"mark":{"type":"line","color":"#D95319"},"encoding":{"x":{"field":"x","type":"quantitative","scale":{"domain":[0.596,1.52]},"axis":{"orient":"top","labels":false,"values":[1,1.5],"title":"2","titleX":91.5}},"y":{"field":"y","type":"quantitative","title":null,"scale":{"domain":[0,5.2]},"axis":{"orient":"right","labels":false,"values":[0,5]}}}}]},
{"width":186,"height":67.5,"transform":[{"filter":"datum.p==3"}],"resolve":{"axis":{"x":"independent","y":"independent"}},"layer":[
{"transform":[{"filter":"datum.m=='PMCMC'"}],"mark":{"type":"line","color":"#0072BD"},"encoding":{"x":{"field":"x","type":"quantitative","scale":{"domain":[0.641,1.584]},"axis":{"values":[1,1.5],"title":"β","titleX":84.5}},"y":{"field":"y","type":"quantitative","title":null,"scale":{"domain":[0,5.2]},"axis":{"values":[0,5]}}}},
{"transform":[{"filter":"datum.m=='MCMC'"}],"mark":{"type":"line","color":"#D95319"},"encoding":{"x":{"field":"x","type":"quantitative","scale":{"domain":[0.641,1.584]},"axis":{"orient":"top","labels":false,"values":[1,1.5],"title":"3","titleX":91.5}},"y":{"field":"y","type":"quantitative","title":null,"scale":{"domain":[0,5.2]},"axis":{"orient":"right","labels":false,"values":[0,5]}}}}]},
{"width":186,"height":67.5,"transform":[{"filter":"datum.p==4"}],"resolve":{"axis":{"x":"independent","y":"independent"}},"layer":[
{"transform":[{"filter":"datum.m=='PMCMC'"}],"mark":{"type":"line","color":"#0072BD"},"encoding":{"x":{"field":"x","type":"quantitative","scale":{"domain":[0.374,1.248]},"axis":{"values":[0.5,1],"title":"β","titleX":84.5}},"y":{"field":"y","type":"quantitative","title":null,"scale":{"domain":[0,5.34]},"axis":{"values":[0,5]}}}},
{"transform":[{"filter":"datum.m=='MCMC'"}],"mark":{"type":"line","color":"#D95319"},"encoding":{"x":{"field":"x","type":"quantitative","scale":{"domain":[0.374,1.248]},"axis":{"orient":"top","labels":false,"values":[0.5,1],"title":"4","titleX":91.5}},"y":{"field":"y","type":"quantitative","title":null,"scale":{"domain":[0,5.34]},"axis":{"orient":"right","labels":false,"values":[0,5]}}}}]},
{"width":186,"height":67.5,"transform":[{"filter":"datum.p==5"}],"resolve":{"axis":{"x":"independent","y":"independent"}},"layer":[
{"transform":[{"filter":"datum.m=='PMCMC'"}],"mark":{"type":"line","color":"#0072BD"},"encoding":{"x":{"field":"x","type":"quantitative","scale":{"domain":[0.707,2.001]},"axis":{"values":[1,1.5,2],"title":"β","titleX":84.5}},"y":{"field":"y","type":"quantitative","title":null,"scale":{"domain":[0,4.22]},"axis":{"values":[0,2,4]}}}},
{"transform":[{"filter":"datum.m=='MCMC'"}],"mark":{"type":"line","color":"#D95319"},"encoding":{"x":{"field":"x","type":"quantitative","scale":{"domain":[0.707,2.001]},"axis":{"orient":"top","labels":false,"values":[1,1.5,2],"title":"5","titleX":91.5}},"y":{"field":"y","type":"quantitative","title":null,"scale":{"domain":[0,4.22]},"axis":{"orient":"right","labels":false,"values":[0,2,4]}}}}]},
{"width":186,"height":67.5,"transform":[{"filter":"datum.p==6"}],"resolve":{"axis":{"x":"independent","y":"independent"}},"layer":[
{"transform":[{"filter":"datum.m=='PMCMC'"}],"mark":{"type":"line","color":"#0072BD"},"encoding":{"x":{"field":"x","type":"quantitative","scale":{"domain":[0.303,0.856]},"axis":{"values":[0.4,0.6,0.8],"title":"β","titleX":84.5}},"y":{"field":"y","type":"quantitative","title":null,"scale":{"domain":[0,10.2]},"axis":{"values":[0,5,10]}}}},
{"transform":[{"filter":"datum.m=='MCMC'"}],"mark":{"type":"line","color":"#D95319"},"encoding":{"x":{"field":"x","type":"quantitative","scale":{"domain":[0.303,0.856]},"axis":{"orient":"top","labels":false,"values":[0.4,0.6,0.8],"title":"6","titleX":91.5}},"y":{"field":"y","type":"quantitative","title":null,"scale":{"domain":[0,10.2]},"axis":{"orient":"right","labels":false,"values":[0,5,10]}}}}]},
{"width":186,"height":67.5,"transform":[{"filter":"datum.p==7"}],"resolve":{"axis":{"x":"independent","y":"independent"}},"layer":[
{"transform":[{"filter":"datum.m=='PMCMC'"}],"mark":{"type":"line","color":"#0072BD"},"encoding":{"x":{"field":"x","type":"quantitative","scale":{"domain":[0.482,1.516]},"axis":{"values":[0.5,1,1.5],"title":"β","titleX":84.5}},"y":{"field":"y","type":"quantitative","title":null,"scale":{"domain":[0,5.72]},"axis":{"values":[0,5]}}}},
{"transform":[{"filter":"datum.m=='MCMC'"}],"mark":{"type":"line","color":"#D95319"},"encoding":{"x":{"field":"x","type":"quantitative","scale":{"domain":[0.482,1.516]},"axis":{"orient":"top","labels":false,"values":[0.5,1,1.5],"title":"7","titleX":91.5}},"y":{"field":"y","type":"quantitative","title":null,"scale":{"domain":[0,5.72]},"axis":{"orient":"right","labels":false,"values":[0,5]}}}}]},
{"width":186,"height":67.5,"transform":[{"filter":"datum.p==8"}],"resolve":{"axis":{"x":"independent","y":"independent"}},"layer":[
{"transform":[{"filter":"datum.m=='PMCMC'"}],"mark":{"type":"line","color":"#0072BD"},"encoding":{"x":{"field":"x","type":"quantitative","scale":{"domain":[0.448,1.27]},"axis":{"values":[0.5,1],"title":"β","titleX":84.5}},"y":{"field":"y","type":"quantitative","title":null,"scale":{"domain":[0,5.82]},"axis":{"values":[0,5]}}}},
{"transform":[{"filter":"datum.m=='MCMC'"}],"mark":{"type":"line","color":"#D95319"},"encoding":{"x":{"field":"x","type":"quantitative","scale":{"domain":[0.448,1.27]},"axis":{"orient":"top","labels":false,"values":[0.5,1],"title":"8","titleX":91.5}},"y":{"field":"y","type":"quantitative","title":null,"scale":{"domain":[0,5.82]},"axis":{"orient":"right","labels":false,"values":[0,5]}}}}]},
{"width":186,"height":67.5,"transform":[{"filter":"datum.p==9"}],"resolve":{"axis":{"x":"independent","y":"independent"}},"layer":[
{"transform":[{"filter":"datum.m=='PMCMC'"}],"mark":{"type":"line","color":"#0072BD"},"encoding":{"x":{"field":"x","type":"quantitative","scale":{"domain":[0.499,1.501]},"axis":{"values":[0.5,1,1.5],"title":"β","titleX":84.5}},"y":{"field":"y","type":"quantitative","title":null,"scale":{"domain":[0,5.75]},"axis":{"values":[0,5]}}}},
{"transform":[{"filter":"datum.m=='MCMC'"}],"mark":{"type":"line","color":"#D95319"},"encoding":{"x":{"field":"x","type":"quantitative","scale":{"domain":[0.499,1.501]},"axis":{"orient":"top","labels":false,"values":[0.5,1,1.5],"title":"9","titleX":91.5}},"y":{"field":"y","type":"quantitative","title":null,"scale":{"domain":[0,5.75]},"axis":{"orient":"right","labels":false,"values":[0,5]}}}}]},
{"width":186,"height":67.5,"transform":[{"filter":"datum.p==10"}],"resolve":{"axis":{"x":"independent","y":"independent"}},"layer":[
{"transform":[{"filter":"datum.m=='PMCMC'"}],"mark":{"type":"line","color":"#0072BD"},"encoding":{"x":{"field":"x","type":"quantitative","scale":{"domain":[0.486,1.189]},"axis":{"values":[0.5,1],"title":"β","titleX":78.5}},"y":{"field":"y","type":"quantitative","title":null,"scale":{"domain":[0,5.82]},"axis":{"values":[0,5]}}}},
{"transform":[{"filter":"datum.m=='MCMC'"}],"mark":{"type":"line","color":"#D95319"},"encoding":{"x":{"field":"x","type":"quantitative","scale":{"domain":[0.486,1.189]},"axis":{"orient":"top","labels":false,"values":[0.5,1],"title":"10","titleX":84}},"y":{"field":"y","type":"quantitative","title":null,"scale":{"domain":[0,5.82]},"axis":{"orient":"right","labels":false,"values":[0,5]}}}}]},
{"width":186,"height":67.5,"transform":[{"filter":"datum.p==11"}],"resolve":{"axis":{"x":"independent","y":"independent"}},"layer":[
{"transform":[{"filter":"datum.m=='PMCMC'"}],"mark":{"type":"line","color":"#0072BD"},"encoding":{"x":{"field":"x","type":"quantitative","scale":{"domain":[0.614,1.66]},"axis":{"values":[1,1.4],"title":"β","titleX":78.5}},"y":{"field":"y","type":"quantitative","title":null,"scale":{"domain":[0,5.35]},"axis":{"values":[0,5]}}}},
{"transform":[{"filter":"datum.m=='MCMC'"}],"mark":{"type":"line","color":"#D95319"},"encoding":{"x":{"field":"x","type":"quantitative","scale":{"domain":[0.614,1.66]},"axis":{"orient":"top","labels":false,"values":[1,1.4],"title":"11","titleX":84}},"y":{"field":"y","type":"quantitative","title":null,"scale":{"domain":[0,5.35]},"axis":{"orient":"right","labels":false,"values":[0,5]}}}}]},
{"width":186,"height":67.5,"transform":[{"filter":"datum.p==12"}],"resolve":{"axis":{"x":"independent","y":"independent"}},"layer":[
{"transform":[{"filter":"datum.m=='PMCMC'"}],"mark":{"type":"line","color":"#0072BD"},"encoding":{"x":{"field":"x","type":"quantitative","scale":{"domain":[0.49,1.514]},"axis":{"values":[0.5,1,1.5],"title":"β","titleX":78.5}},"y":{"field":"y","type":"quantitative","title":null,"scale":{"domain":[0,5.37]},"axis":{"values":[0,5]}}}},
{"transform":[{"filter":"datum.m=='MCMC'"}],"mark":{"type":"line","color":"#D95319"},"encoding":{"x":{"field":"x","type":"quantitative","scale":{"domain":[0.49,1.514]},"axis":{"orient":"top","labels":false,"values":[0.5,1,1.5],"title":"12","titleX":84}},"y":{"field":"y","type":"quantitative","title":null,"scale":{"domain":[0,5.37]},"axis":{"orient":"right","labels":false,"values":[0,5]}}}}]},
{"width":186,"height":67.5,"transform":[{"filter":"datum.p==13"}],"resolve":{"axis":{"x":"independent","y":"independent"}},"layer":[
{"transform":[{"filter":"datum.m=='PMCMC'"}],"mark":{"type":"line","color":"#0072BD"},"encoding":{"x":{"field":"x","type":"quantitative","scale":{"domain":[0.628,1.6]},"axis":{"values":[1,1.5],"title":"β","titleX":78.5}},"y":{"field":"y","type":"quantitative","title":null,"scale":{"domain":[0,5.37]},"axis":{"values":[0,5]}}}},
{"transform":[{"filter":"datum.m=='MCMC'"}],"mark":{"type":"line","color":"#D95319"},"encoding":{"x":{"field":"x","type":"quantitative","scale":{"domain":[0.628,1.6]},"axis":{"orient":"top","labels":false,"values":[1,1.5],"title":"13","titleX":84}},"y":{"field":"y","type":"quantitative","title":null,"scale":{"domain":[0,5.37]},"axis":{"orient":"right","labels":false,"values":[0,5]}}}}]},
{"width":186,"height":67.5,"transform":[{"filter":"datum.p==14"}],"resolve":{"axis":{"x":"independent","y":"independent"}},"layer":[
{"transform":[{"filter":"datum.m=='PMCMC'"}],"mark":{"type":"line","color":"#0072BD"},"encoding":{"x":{"field":"x","type":"quantitative","scale":{"domain":[0.611,1.551]},"axis":{"values":[1,1.5],"title":"β","titleX":78.5}},"y":{"field":"y","type":"quantitative","title":null,"scale":{"domain":[0,5.37]},"axis":{"values":[0,5]}}}},
{"transform":[{"filter":"datum.m=='MCMC'"}],"mark":{"type":"line","color":"#D95319"},"encoding":{"x":{"field":"x","type":"quantitative","scale":{"domain":[0.611,1.551]},"axis":{"orient":"top","labels":false,"values":[1,1.5],"title":"14","titleX":84}},"y":{"field":"y","type":"quantitative","title":null,"scale":{"domain":[0,5.37]},"axis":{"orient":"right","labels":false,"values":[0,5]}}}}]},
{"width":186,"height":67.5,"transform":[{"filter":"datum.p==15"}],"resolve":{"axis":{"x":"independent","y":"independent"}},"layer":[
{"transform":[{"filter":"datum.m=='PMCMC'"}],"mark":{"type":"line","color":"#0072BD"},"encoding":{"x":{"field":"x","type":"quantitative","scale":{"domain":[0.671,1.714]},"axis":{"values":[1,1.4],"title":"β","titleX":78.5}},"y":{"field":"y","type":"quantitative","title":null,"scale":{"domain":[0,5.37]},"axis":{"values":[0,5]}}}},
{"transform":[{"filter":"datum.m=='MCMC'"}],"mark":{"type":"line","color":"#D95319"},"encoding":{"x":{"field":"x","type":"quantitative","scale":{"domain":[0.671,1.714]},"axis":{"orient":"top","labels":false,"values":[1,1.4],"title":"15","titleX":84}},"y":{"field":"y","type":"quantitative","title":null,"scale":{"domain":[0,5.37]},"axis":{"orient":"right","labels":false,"values":[0,5]}}}}]},
{"width":186,"height":67.5,"transform":[{"filter":"datum.p==16"}],"resolve":{"axis":{"x":"independent","y":"independent"}},"layer":[
{"transform":[{"filter":"datum.m=='PMCMC'"}],"mark":{"type":"line","color":"#0072BD"},"encoding":{"x":{"field":"x","type":"quantitative","scale":{"domain":[0.496,1.292]},"axis":{"values":[0.5,1],"title":"β","titleX":78.5}},"y":{"field":"y","type":"quantitative","title":null,"scale":{"domain":[0,6.33]},"axis":{"values":[0,5]}}}},
{"transform":[{"filter":"datum.m=='MCMC'"}],"mark":{"type":"line","color":"#D95319"},"encoding":{"x":{"field":"x","type":"quantitative","scale":{"domain":[0.496,1.292]},"axis":{"orient":"top","labels":false,"values":[0.5,1],"title":"16","titleX":84}},"y":{"field":"y","type":"quantitative","title":null,"scale":{"domain":[0,6.33]},"axis":{"orient":"right","labels":false,"values":[0,5]}}}}]},
{"width":186,"height":67.5,"transform":[{"filter":"datum.p==17"}],"resolve":{"axis":{"x":"independent","y":"independent"}},"layer":[
{"transform":[{"filter":"datum.m=='PMCMC'"}],"mark":{"type":"line","color":"#0072BD"},"encoding":{"x":{"field":"x","type":"quantitative","scale":{"domain":[0.42,1.192]},"axis":{"values":[0.5,1],"title":"β","titleX":78.5}},"y":{"field":"y","type":"quantitative","title":null,"scale":{"domain":[0,5.35]},"axis":{"values":[0,5]}}}},
{"transform":[{"filter":"datum.m=='MCMC'"}],"mark":{"type":"line","color":"#D95319"},"encoding":{"x":{"field":"x","type":"quantitative","scale":{"domain":[0.42,1.192]},"axis":{"orient":"top","labels":false,"values":[0.5,1],"title":"17","titleX":84}},"y":{"field":"y","type":"quantitative","title":null,"scale":{"domain":[0,5.35]},"axis":{"orient":"right","labels":false,"values":[0,5]}}}}]},
{"width":186,"height":67.5,"transform":[{"filter":"datum.p==18"}],"resolve":{"axis":{"x":"independent","y":"independent"}},"layer":[
{"transform":[{"filter":"datum.m=='PMCMC'"}],"mark":{"type":"line","color":"#0072BD"},"encoding":{"x":{"field":"x","type":"quantitative","scale":{"domain":[0.465,1.223]},"axis":{"values":[0.5,1],"title":"β","titleX":78.5}},"y":{"field":"y","type":"quantitative","title":null,"scale":{"domain":[0,6.3]},"axis":{"values":[0,5]}}}},
{"transform":[{"filter":"datum.m=='MCMC'"}],"mark":{"type":"line","color":"#D95319"},"encoding":{"x":{"field":"x","type":"quantitative","scale":{"domain":[0.465,1.223]},"axis":{"orient":"top","labels":false,"values":[0.5,1],"title":"18","titleX":84}},"y":{"field":"y","type":"quantitative","title":null,"scale":{"domain":[0,6.3]},"axis":{"orient":"right","labels":false,"values":[0,5]}}}}]},
{"width":186,"height":67.5,"transform":[{"filter":"datum.p==19"}],"resolve":{"axis":{"x":"independent","y":"independent"}},"layer":[
{"transform":[{"filter":"datum.m=='PMCMC'"}],"mark":{"type":"line","color":"#0072BD"},"encoding":{"x":{"field":"x","type":"quantitative","scale":{"domain":[0.384,1.009]},"axis":{"values":[0.5,1],"title":"β","titleX":78.5}},"y":{"field":"y","type":"quantitative","title":null,"scale":{"domain":[0,8.1]},"axis":{"values":[0,5]}}}},
{"transform":[{"filter":"datum.m=='MCMC'"}],"mark":{"type":"line","color":"#D95319"},"encoding":{"x":{"field":"x","type":"quantitative","scale":{"domain":[0.384,1.009]},"axis":{"orient":"top","labels":false,"values":[0.5,1],"title":"19","titleX":84}},"y":{"field":"y","type":"quantitative","title":null,"scale":{"domain":[0,8.1]},"axis":{"orient":"right","labels":false,"values":[0,5]}}}}]},
{"width":186,"height":67.5,"transform":[{"filter":"datum.p==20"}],"resolve":{"axis":{"x":"independent","y":"independent"}},"layer":[
{"transform":[{"filter":"datum.m=='PMCMC'"}],"mark":{"type":"line","color":"#0072BD"},"encoding":{"x":{"field":"x","type":"quantitative","scale":{"domain":[0.656,2.001]},"axis":{"values":[1,1.5,2],"title":"β","titleX":78.5}},"y":{"field":"y","type":"quantitative","title":null,"scale":{"domain":[0,5.3]},"axis":{"values":[0,5]}}}},
{"transform":[{"filter":"datum.m=='MCMC'"}],"mark":{"type":"line","color":"#D95319"},"encoding":{"x":{"field":"x","type":"quantitative","scale":{"domain":[0.656,2.001]},"axis":{"orient":"top","labels":false,"values":[1,1.5,2],"title":"20","titleX":84}},"y":{"field":"y","type":"quantitative","title":null,"scale":{"domain":[0,5.3]},"axis":{"orient":"right","labels":false,"values":[0,5]}}}}]},
{"width":186,"height":67.5,"transform":[{"filter":"datum.p==21"}],"resolve":{"axis":{"x":"independent","y":"independent"}},"layer":[
{"transform":[{"filter":"datum.m=='PMCMC'"}],"mark":{"type":"line","color":"#0072BD"},"encoding":{"x":{"field":"x","type":"quantitative","scale":{"domain":[0.683,1.69]},"axis":{"values":[1,1.4],"title":"β","titleX":78.5}},"y":{"field":"y","type":"quantitative","title":null,"scale":{"domain":[0,5.3]},"axis":{"values":[0,5]}}}},
{"transform":[{"filter":"datum.m=='MCMC'"}],"mark":{"type":"line","color":"#D95319"},"encoding":{"x":{"field":"x","type":"quantitative","scale":{"domain":[0.683,1.69]},"axis":{"orient":"top","labels":false,"values":[1,1.4],"title":"21","titleX":84}},"y":{"field":"y","type":"quantitative","title":null,"scale":{"domain":[0,5.3]},"axis":{"orient":"right","labels":false,"values":[0,5]}}}}]},
{"width":186,"height":67.5,"transform":[{"filter":"datum.p==22"}],"resolve":{"axis":{"x":"independent","y":"independent"}},"layer":[
{"transform":[{"filter":"datum.m=='PMCMC'"}],"mark":{"type":"line","color":"#0072BD"},"encoding":{"x":{"field":"x","type":"quantitative","scale":{"domain":[0.793,2.045]},"axis":{"values":[1,1.5,2],"title":"β","titleX":78.5}},"y":{"field":"y","type":"quantitative","title":null,"scale":{"domain":[0,4.25]},"axis":{"values":[0,2,4]}}}},
{"transform":[{"filter":"datum.m=='MCMC'"}],"mark":{"type":"line","color":"#D95319"},"encoding":{"x":{"field":"x","type":"quantitative","scale":{"domain":[0.793,2.045]},"axis":{"orient":"top","labels":false,"values":[1,1.5,2],"title":"22","titleX":84}},"y":{"field":"y","type":"quantitative","title":null,"scale":{"domain":[0,4.25]},"axis":{"orient":"right","labels":false,"values":[0,2,4]}}}}]},
{"width":186,"height":67.5,"transform":[{"filter":"datum.p==23"}],"resolve":{"axis":{"x":"independent","y":"independent"}},"layer":[
{"transform":[{"filter":"datum.m=='PMCMC'"}],"mark":{"type":"line","color":"#0072BD"},"encoding":{"x":{"field":"x","type":"quantitative","scale":{"domain":[0.622,1.646]},"axis":{"values":[1,1.4],"title":"β","titleX":78.5}},"y":{"field":"y","type":"quantitative","title":null,"scale":{"domain":[0,5.3]},"axis":{"values":[0,5]}}}},
{"transform":[{"filter":"datum.m=='MCMC'"}],"mark":{"type":"line","color":"#D95319"},"encoding":{"x":{"field":"x","type":"quantitative","scale":{"domain":[0.622,1.646]},"axis":{"orient":"top","labels":false,"values":[1,1.4],"title":"23","titleX":84}},"y":{"field":"y","type":"quantitative","title":null,"scale":{"domain":[0,5.3]},"axis":{"orient":"right","labels":false,"values":[0,5]}}}}]},
{"width":186,"height":67.5,"transform":[{"filter":"datum.p==24"}],"resolve":{"axis":{"x":"independent","y":"independent"}},"layer":[
{"transform":[{"filter":"datum.m=='PMCMC'"}],"mark":{"type":"line","color":"#0072BD"},"encoding":{"x":{"field":"x","type":"quantitative","scale":{"domain":[0.499,1.535]},"axis":{"values":[0.5,1,1.5],"title":"β","titleX":78.5}},"y":{"field":"y","type":"quantitative","title":null,"scale":{"domain":[0,5.69]},"axis":{"values":[0,5]}}}},
{"transform":[{"filter":"datum.m=='MCMC'"}],"mark":{"type":"line","color":"#D95319"},"encoding":{"x":{"field":"x","type":"quantitative","scale":{"domain":[0.499,1.535]},"axis":{"orient":"top","labels":false,"values":[0.5,1,1.5],"title":"24","titleX":84}},"y":{"field":"y","type":"quantitative","title":null,"scale":{"domain":[0,5.69]},"axis":{"orient":"right","labels":false,"values":[0,5]}}}}]},
{"width":186,"height":67.5,"transform":[{"filter":"datum.p==25"}],"resolve":{"axis":{"x":"independent","y":"independent"}},"layer":[
{"transform":[{"filter":"datum.m=='PMCMC'"}],"mark":{"type":"line","color":"#0072BD"},"encoding":{"x":{"field":"x","type":"quantitative","scale":{"domain":[0.383,1.014]},"axis":{"values":[0.5,1],"title":"β","titleX":78.5}},"y":{"field":"y","type":"quantitative","title":null,"scale":{"domain":[0,8.1]},"axis":{"values":[0,5]}}}},
{"transform":[{"filter":"datum.m=='MCMC'"}],"mark":{"type":"line","color":"#D95319"},"encoding":{"x":{"field":"x","type":"quantitative","scale":{"domain":[0.383,1.014]},"axis":{"orient":"top","labels":false,"values":[0.5,1],"title":"25","titleX":84}},"y":{"field":"y","type":"quantitative","title":null,"scale":{"domain":[0,8.1]},"axis":{"orient":"right","labels":false,"values":[0,5]}}}}]},
{"width":186,"height":67.5,"transform":[{"filter":"datum.p==26"}],"resolve":{"axis":{"x":"independent","y":"independent"}},"layer":[
{"transform":[{"filter":"datum.m=='PMCMC'"}],"mark":{"type":"line","color":"#0072BD"},"encoding":{"x":{"field":"x","type":"quantitative","scale":{"domain":[0.381,1.004]},"axis":{"values":[0.5,1],"title":"β","titleX":78.5}},"y":{"field":"y","type":"quantitative","title":null,"scale":{"domain":[0,8.1]},"axis":{"values":[0,5]}}}},
{"transform":[{"filter":"datum.m=='MCMC'"}],"mark":{"type":"line","color":"#D95319"},"encoding":{"x":{"field":"x","type":"quantitative","scale":{"domain":[0.381,1.004]},"axis":{"orient":"top","labels":false,"values":[0.5,1],"title":"26","titleX":84}},"y":{"field":"y","type":"quantitative","title":null,"scale":{"domain":[0,8.1]},"axis":{"orient":"right","labels":false,"values":[0,5]}}}}]}
],
"resolve":{"scale":{"x":"independent","y":"independent"}}
}
